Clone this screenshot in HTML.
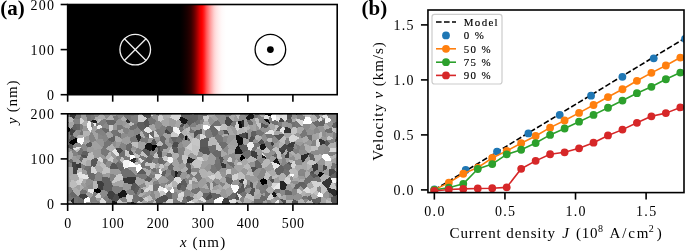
<!DOCTYPE html>
<html><head><meta charset="utf-8"><style>
html,body{margin:0;padding:0;background:#fff;width:685px;height:251px;overflow:hidden}
svg{display:block;will-change:transform}
text{font-family:"Liberation Serif",serif;fill:#000}
</style></head><body>
<svg width="685" height="251" viewBox="0 0 685 251">
<defs>
<linearGradient id="dw" gradientUnits="userSpaceOnUse" x1="67.65" y1="0" x2="337.2" y2="0">
<stop offset="0.4168" stop-color="rgb(0,0,0)"/>
<stop offset="0.4279" stop-color="rgb(8,0,0)"/>
<stop offset="0.4428" stop-color="rgb(25,0,0)"/>
<stop offset="0.4576" stop-color="rgb(50,0,0)"/>
<stop offset="0.4687" stop-color="rgb(95,0,0)"/>
<stop offset="0.4762" stop-color="rgb(135,0,0)"/>
<stop offset="0.4836" stop-color="rgb(180,0,0)"/>
<stop offset="0.4910" stop-color="rgb(225,0,0)"/>
<stop offset="0.4984" stop-color="rgb(255,0,0)"/>
<stop offset="0.5058" stop-color="rgb(255,30,30)"/>
<stop offset="0.5147" stop-color="rgb(255,85,85)"/>
<stop offset="0.5207" stop-color="rgb(255,115,115)"/>
<stop offset="0.5281" stop-color="rgb(255,150,150)"/>
<stop offset="0.5355" stop-color="rgb(255,180,180)"/>
<stop offset="0.5429" stop-color="rgb(255,207,207)"/>
<stop offset="0.5504" stop-color="rgb(255,225,225)"/>
<stop offset="0.5615" stop-color="rgb(255,240,240)"/>
<stop offset="0.5726" stop-color="rgb(255,250,250)"/>
<stop offset="0.5875" stop-color="rgb(255,255,255)"/>
</linearGradient>
</defs>
<text x="0.30" y="14.60" font-size="21" font-weight="bold">(a)</text>
<rect x="67.65" y="4.5" width="269.55" height="90.20" fill="url(#dw)"/>
<circle cx="135.23" cy="49.60" r="15.3" fill="none" stroke="#f0f0f0" stroke-width="1.3"/>
<path d="M124.41,38.78L146.04,60.42M124.41,60.42L146.04,38.78" stroke="#f0f0f0" stroke-width="1.3"/>
<circle cx="270.38" cy="49.60" r="15.3" fill="none" stroke="#000" stroke-width="1.3"/>
<circle cx="270.38" cy="49.60" r="3.4" fill="#000"/>
<defs><filter id="bl" x="0" y="0" width="1" height="1"><feGaussianBlur stdDeviation="0.6"/></filter><clipPath id="ca"><rect x="67.65" y="113.8" width="269.55" height="90.20"/></clipPath></defs>
<g clip-path="url(#ca)"><g filter="url(#bl)" shape-rendering="crispEdges">
<polygon points="236.3,201.8 240.4,204.0 242.0,204.0 242.8,203.1 239.4,199.3 236.4,200.5" fill="#bbbbbb"/>
<polygon points="283.7,133.8 284.2,133.3 284.8,127.8 282.1,127.1 279.6,130.9" fill="#e6e6e6"/>
<polygon points="143.7,199.6 147.6,202.0 148.4,201.2 147.0,196.6 143.2,198.2" fill="#cecece"/>
<polygon points="289.5,152.8 289.4,152.5 288.1,151.7 285.1,155.7 285.1,157.7 285.2,157.7 289.2,157.9 289.3,157.6" fill="#3e3e3e"/>
<polygon points="147.6,133.2 143.6,130.0 141.8,130.6 145.2,137.1 146.0,136.8" fill="#747474"/>
<polygon points="130.1,155.6 134.1,154.4 134.1,154.4 130.8,150.4 130.6,150.4 128.6,151.1" fill="#505050"/>
<polygon points="199.7,169.1 204.0,168.9 209.2,163.7 207.3,160.6 204.2,160.8 202.2,161.6" fill="#a0a0a0"/>
<polygon points="122.6,125.6 123.1,121.6 120.4,118.8 118.8,118.8 116.1,121.7 116.1,122.7 117.6,124.8" fill="#949494"/>
<polygon points="71.6,162.8 72.8,161.5 72.1,158.2 67.7,160.8 67.7,162.2" fill="#6a6a6a"/>
<polygon points="189.0,201.8 190.1,204.0 194.5,204.0 194.7,203.0 190.6,200.8" fill="#e9e9e9"/>
<polygon points="241.4,160.7 239.5,158.4 237.2,159.0 238.3,161.6 241.2,161.7" fill="#858585"/>
<polygon points="202.0,129.4 201.0,129.3 197.6,129.9 199.0,133.5 200.3,134.0 201.6,133.9" fill="#525252"/>
<polygon points="256.4,123.5 256.3,123.5 255.6,124.0 255.8,131.1 255.9,131.1 259.7,129.5" fill="#969696"/>
<polygon points="296.2,120.6 295.1,121.9 295.3,127.2 297.2,127.8 302.0,126.4" fill="#747474"/>
<polygon points="136.6,194.5 135.0,194.3 133.2,195.6 132.1,201.9 135.7,203.1 137.2,202.5 138.6,200.9 139.4,197.2 137.9,195.1" fill="#6e6e6e"/>
<polygon points="211.1,192.3 202.5,193.3 202.5,195.8 206.2,197.1 211.1,193.0 211.1,192.5" fill="#646464"/>
<polygon points="244.4,188.6 244.0,184.1 243.0,183.4 242.1,183.5 241.0,187.7 244.4,188.8" fill="#545454"/>
<polygon points="85.6,165.5 91.5,165.8 90.7,161.1 88.4,159.8 85.5,161.8" fill="#a9a9a9"/>
<polygon points="206.0,201.1 206.5,200.4 206.2,197.1 202.5,195.8 202.2,196.4" fill="#666666"/>
<polygon points="165.3,170.0 163.5,167.6 160.9,169.4 162.0,172.3" fill="#9f9f9f"/>
<polygon points="81.1,146.9 81.4,144.7 77.5,141.8 73.3,145.0 73.5,147.9" fill="#878787"/>
<polygon points="154.1,124.3 156.6,121.0 150.8,116.7 147.6,118.9 149.9,124.7" fill="#747474"/>
<polygon points="290.1,142.6 286.9,145.2 287.1,146.2 293.3,148.0 294.8,142.8 294.7,142.5 294.2,141.8" fill="#3c3c3c"/>
<polygon points="336.8,164.1 335.1,169.8 335.7,171.5 337.2,172.1 337.2,164.2" fill="#a3a3a3"/>
<polygon points="232.3,175.4 238.4,172.7 238.8,172.0 234.1,167.5 233.2,167.8 231.3,168.9 230.6,173.5" fill="#9a9a9a"/>
<polygon points="254.1,118.2 250.5,119.5 253.8,124.3 255.6,124.0 256.3,123.5 254.8,118.5" fill="#9b9b9b"/>
<polygon points="185.5,129.1 183.6,129.7 181.3,132.2 187.8,133.0" fill="#b3b3b3"/>
<polygon points="170.4,117.5 176.5,120.6 179.0,119.5 180.6,116.6 180.8,113.8 172.0,113.8" fill="#d8d8d8"/>
<polygon points="336.4,127.7 331.7,127.4 331.4,127.8 332.9,132.2 337.2,132.8 337.2,128.5" fill="#c1c1c1"/>
<polygon points="248.4,139.8 249.2,141.8 252.4,141.9 254.7,138.7 254.5,137.2 251.7,136.0" fill="#535353"/>
<polygon points="306.5,177.6 310.8,181.5 311.4,181.4 312.5,180.5 312.9,178.7 312.6,177.1 309.9,174.8" fill="#6e6e6e"/>
<polygon points="100.1,192.6 98.1,193.1 95.2,196.9 95.8,197.5 101.1,198.2 101.2,198.1" fill="#d4d4d4"/>
<polygon points="326.6,200.0 325.7,204.0 331.4,204.0 332.3,203.0 331.4,201.8" fill="#c0c0c0"/>
<polygon points="224.7,123.9 226.2,116.6 224.0,114.4 218.3,118.3 217.8,119.8 221.3,124.7" fill="#8e8e8e"/>
<polygon points="117.1,201.9 112.6,200.9 111.7,204.0 117.5,204.0" fill="#181818"/>
<polygon points="221.3,124.7 217.8,119.8 214.7,121.5 212.0,125.2 212.6,125.5 220.6,126.0" fill="#727272"/>
<polygon points="309.9,174.8 312.6,177.1 313.9,174.4 309.8,172.2 309.6,172.3" fill="#5c5c5c"/>
<polygon points="218.4,142.9 222.6,149.2 227.3,145.8 227.7,144.0 226.3,142.5 223.2,141.4" fill="#6e6e6e"/>
<polygon points="180.9,132.4 178.6,128.0 174.5,126.6 173.5,127.2 173.3,131.1 178.8,134.7 180.8,132.7" fill="#f4f4f4"/>
<polygon points="68.5,201.1 70.8,200.7 73.7,198.3 74.0,197.5 71.2,196.6 67.7,198.3 67.7,200.7" fill="#737373"/>
<polygon points="195.5,159.8 195.2,159.8 191.5,163.2 194.2,167.6 197.3,167.7" fill="#c4c4c4"/>
<polygon points="150.2,184.5 147.7,187.8 149.4,190.1 151.6,191.2 153.2,190.9 153.2,184.8 153.1,184.7" fill="#d6d6d6"/>
<polygon points="69.0,141.9 68.6,141.7 68.0,141.5 67.7,141.6 67.7,147.3 67.7,147.3 69.6,143.1" fill="#979797"/>
<polygon points="68.6,122.7 73.2,121.9 73.6,119.1 70.0,116.3 67.7,117.3 67.7,118.9" fill="#b6b6b6"/>
<polygon points="335.7,171.5 329.9,176.9 329.9,177.2 331.1,178.5 337.2,178.4 337.2,172.1" fill="#636363"/>
<polygon points="177.1,159.0 179.6,163.7 183.5,163.3 181.3,155.7 179.6,155.7" fill="#828282"/>
<polygon points="308.8,140.1 304.1,143.4 310.8,146.3 311.4,145.6 311.9,140.8" fill="#989898"/>
<polygon points="231.4,184.3 232.9,180.9 231.8,178.3 225.8,176.8 225.4,177.1 226.8,183.0 230.7,185.0" fill="#666666"/>
<polygon points="163.7,160.6 162.3,157.1 158.6,157.5 158.6,157.6 158.1,163.1 159.9,164.3 162.1,164.1" fill="#686868"/>
<polygon points="279.5,199.8 276.2,200.7 274.8,204.0 279.3,204.0" fill="#eeeeee"/>
<polygon points="99.9,202.4 99.9,202.4 99.3,203.3 99.3,203.7 99.5,204.0 106.1,204.0 106.1,203.9" fill="#cacaca"/>
<polygon points="290.9,122.9 292.1,121.7 291.7,119.0 291.2,118.6 287.2,119.0 286.1,121.4 286.5,122.2" fill="#626262"/>
<polygon points="179.9,189.6 177.8,189.6 176.5,192.2 177.7,193.8 183.8,191.6" fill="#989898"/>
<polygon points="285.2,157.7 285.1,157.7 282.5,158.8 282.4,159.0 281.1,165.1 282.8,166.2 286.8,163.6 287.0,163.2" fill="#878787"/>
<polygon points="264.4,133.7 264.4,133.7 270.9,129.5 268.9,125.6 268.8,125.7 265.4,128.4 263.9,132.7" fill="#939393"/>
<polygon points="119.2,147.3 121.0,142.4 116.3,141.9 115.2,148.2 115.4,148.9" fill="#999999"/>
<polygon points="112.2,142.7 108.4,139.8 104.3,142.6 103.2,147.5 106.1,148.5 112.1,143.4" fill="#757575"/>
<polygon points="327.6,169.0 328.4,169.6 331.1,168.6 331.9,162.8 326.7,166.3" fill="#b6b6b6"/>
<polygon points="153.8,131.5 153.9,137.0 159.5,136.8 155.3,130.7" fill="#cfcfcf"/>
<polygon points="330.2,156.5 337.2,153.7 337.2,152.1 328.8,152.3 327.3,154.0" fill="#818181"/>
<polygon points="337.2,164.2 337.2,160.4 336.5,163.9 336.8,164.1" fill="#9b9b9b"/>
<polygon points="213.9,200.1 212.4,198.1 206.5,200.4 206.0,201.1 205.5,202.5 205.7,203.2 209.6,204.0 214.0,204.0" fill="#7c7c7c"/>
<polygon points="270.8,162.3 264.3,168.7 266.2,171.3 267.4,171.6 274.4,169.5 271.1,162.4" fill="#9c9c9c"/>
<polygon points="181.3,203.0 183.9,196.1 178.4,196.9 176.8,199.1" fill="#d1d1d1"/>
<polygon points="173.2,199.9 173.3,203.5 174.9,204.0 181.8,204.0 181.3,203.0 176.8,199.1" fill="#797979"/>
<polygon points="77.3,152.2 77.9,154.5 81.0,154.9 81.4,154.5 83.4,150.7 81.2,147.7" fill="#727272"/>
<polygon points="205.7,203.2 205.3,204.0 209.6,204.0" fill="#898989"/>
<polygon points="133.2,195.6 135.0,194.3 133.8,191.0 130.5,188.9 125.6,191.0 126.9,194.1" fill="#828282"/>
<polygon points="250.7,181.5 253.0,182.9 258.6,180.2 259.0,179.8 256.9,177.3 253.6,175.7 252.9,176.1 250.0,180.2" fill="#9c9c9c"/>
<polygon points="157.2,146.2 156.1,144.8 152.3,144.6 151.5,150.4 153.5,150.7 157.2,146.5" fill="#000000"/>
<polygon points="117.2,114.6 118.4,113.8 116.5,113.8" fill="#3c3c3c"/>
<polygon points="123.5,202.3 119.6,199.2 117.1,201.9 117.5,204.0 122.7,204.0" fill="#c8c8c8"/>
<polygon points="305.6,117.1 305.1,116.4 300.4,113.8 297.7,113.8 296.5,114.7 296.5,118.3 296.7,118.7 303.5,120.6" fill="#828282"/>
<polygon points="234.6,152.4 228.5,154.6 229.1,156.8 232.3,158.4 235.2,157.3 235.6,153.7" fill="#8d8d8d"/>
<polygon points="231.8,178.3 232.3,175.4 230.6,173.5 226.5,174.5 225.8,176.8" fill="#797979"/>
<polygon points="191.3,171.6 191.1,173.2 193.8,176.4 193.9,176.4 198.1,172.7" fill="#bfbfbf"/>
<polygon points="242.2,127.4 241.0,120.7 239.2,120.5 237.7,121.5 239.6,128.4" fill="#0d0d0d"/>
<polygon points="77.3,152.2 81.2,147.7 81.1,147.4 75.1,150.3" fill="#bababa"/>
<polygon points="273.7,189.7 273.5,191.5 276.4,194.0 279.7,192.5 280.7,189.4 280.0,188.8" fill="#757575"/>
<polygon points="265.2,114.8 263.7,117.3 264.3,118.9 268.0,119.1 270.7,116.2" fill="#e0e0e0"/>
<polygon points="321.1,192.7 320.4,185.4 316.8,187.7 316.6,190.2 318.7,192.1" fill="#868686"/>
<polygon points="310.3,159.5 306.8,163.2 307.4,163.9 312.3,165.4 316.4,163.0 315.0,161.2" fill="#c6c6c6"/>
<polygon points="134.4,135.8 133.3,130.2 129.4,129.3 127.3,134.7 127.8,136.2 130.2,137.8" fill="#8c8c8c"/>
<polygon points="109.6,167.8 110.2,168.7 118.4,169.1 115.9,164.1 112.5,162.5" fill="#565656"/>
<polygon points="67.7,167.4 67.7,175.8 69.4,176.4 73.3,173.7 73.3,167.4 71.8,166.5" fill="#a6a6a6"/>
<polygon points="109.4,177.7 102.6,176.4 101.5,180.8 103.9,183.1 110.8,182.4" fill="#5e5e5e"/>
<polygon points="68.0,141.5 67.7,140.7 67.7,141.6" fill="#848484"/>
<polygon points="326.7,166.3 331.9,162.8 331.9,162.8 330.7,160.5 325.4,161.1 324.9,165.1" fill="#bdbdbd"/>
<polygon points="292.7,176.6 294.2,174.6 293.7,174.3 289.9,173.7 289.5,174.4 291.3,176.4" fill="#ffffff"/>
<polygon points="235.2,127.4 236.1,121.6 233.5,121.0 232.8,121.1 230.1,125.3" fill="#787878"/>
<polygon points="305.1,116.4 305.4,113.8 300.4,113.8" fill="#b0b0b0"/>
<polygon points="159.5,136.8 153.9,137.0 153.3,137.8 153.0,138.4 153.0,138.4 155.0,139.8 159.9,140.0 160.4,137.1" fill="#9d9d9d"/>
<polygon points="91.0,173.3 95.7,173.6 97.1,172.0 94.6,166.9 91.8,166.1 91.2,167.1" fill="#d6d6d6"/>
<polygon points="286.1,137.7 284.8,143.8 285.0,143.9 286.9,145.2 290.1,142.6 288.6,137.9" fill="#7e7e7e"/>
<polygon points="306.6,192.7 310.0,192.5 309.8,189.6 307.0,186.6 303.9,189.0 303.5,190.5" fill="#dedede"/>
<polygon points="94.2,180.9 93.7,181.0 93.1,182.1 93.5,188.9 98.1,188.4 97.2,181.5" fill="#b6b6b6"/>
<polygon points="312.4,122.4 310.9,123.8 309.2,128.9 313.8,130.3 316.3,127.4" fill="#9b9b9b"/>
<polygon points="226.5,174.5 225.9,172.8 219.3,171.4 221.9,177.3 225.4,177.1 225.8,176.8" fill="#979797"/>
<polygon points="228.5,117.2 232.8,121.1 233.5,121.0 235.2,114.2 235.2,113.8 232.8,113.8" fill="#ababab"/>
<polygon points="253.6,175.7 253.2,172.6 252.6,172.1 248.2,171.4 245.8,174.8 252.9,176.1" fill="#bbbbbb"/>
<polygon points="292.9,188.6 291.3,191.2 291.9,194.9 293.3,196.3 297.5,193.2 297.0,189.6 294.0,188.4" fill="#868686"/>
<polygon points="153.1,184.7 153.2,184.8 159.0,183.5 157.8,180.2 152.8,181.8" fill="#7f7f7f"/>
<polygon points="303.5,199.6 305.0,203.8 308.3,200.3 307.2,199.2" fill="#878787"/>
<polygon points="246.0,132.5 247.3,130.3 246.7,126.6 243.9,126.9 243.2,127.4 245.6,132.4" fill="#bdbdbd"/>
<polygon points="166.2,128.9 164.5,132.8 170.9,134.4 171.0,133.9" fill="#474747"/>
<polygon points="193.8,176.4 191.1,173.2 188.8,174.3 190.2,176.6 193.2,176.9" fill="#7c7c7c"/>
<polygon points="87.7,147.6 92.1,146.0 91.8,142.7 90.0,141.8 85.9,144.6" fill="#5d5d5d"/>
<polygon points="102.6,176.4 102.4,173.9 101.6,172.7 97.1,172.0 95.7,173.6 94.2,180.9 97.2,181.5 101.5,180.8" fill="#888888"/>
<polygon points="300.5,146.2 296.3,144.4 296.9,149.4 298.9,150.4 299.2,150.1" fill="#808080"/>
<polygon points="167.2,161.1 163.7,160.6 162.1,164.1 163.3,165.2 167.4,161.4 167.4,161.4" fill="#717171"/>
<polygon points="122.8,129.0 117.9,130.6 118.1,132.2 121.6,133.7 123.6,132.5" fill="#aeaeae"/>
<polygon points="155.7,152.3 153.5,150.7 151.5,150.4 150.2,151.1 149.7,154.4 153.2,156.1" fill="#7e7e7e"/>
<polygon points="86.7,185.9 85.4,183.7 82.2,183.1 81.2,183.6 80.7,184.6 83.6,187.5" fill="#9b9b9b"/>
<polygon points="223.2,141.4 226.3,142.5 228.1,135.8 222.7,136.8" fill="#888888"/>
<polygon points="82.6,189.2 83.6,187.5 80.7,184.6 79.8,185.3 80.5,190.6" fill="#aeaeae"/>
<polygon points="95.4,117.1 94.1,119.3 97.2,121.8 98.3,118.8 97.2,117.1" fill="#acacac"/>
<polygon points="99.8,113.8 93.4,113.8 95.4,117.1 97.2,117.1 100.4,114.2" fill="#868686"/>
<polygon points="317.5,139.3 318.6,139.4 319.4,138.9 318.8,133.1 314.3,133.8" fill="#a5a5a5"/>
<polygon points="147.0,196.3 150.2,195.0 151.6,191.2 149.4,190.1 146.0,192.7 145.7,194.4" fill="#999999"/>
<polygon points="237.3,131.5 239.6,128.4 237.7,121.5 236.1,121.6 235.2,127.4" fill="#d3d3d3"/>
<polygon points="181.8,204.0 184.8,204.0 187.8,201.6 185.9,197.2 183.9,196.1 183.9,196.1 181.3,203.0" fill="#707070"/>
<polygon points="169.0,180.3 166.1,177.4 165.3,177.3 163.5,182.7 165.4,183.6" fill="#9b9b9b"/>
<polygon points="86.7,185.9 87.2,186.1 93.1,182.1 93.7,181.0 88.6,178.0 86.9,179.0 85.4,183.7" fill="#919191"/>
<polygon points="280.7,189.4 279.7,192.5 281.3,196.2 285.2,194.8 284.8,190.1" fill="#898989"/>
<polygon points="250.7,150.9 253.8,146.1 253.4,143.0 252.4,141.9 249.2,141.8 246.7,145.2 248.4,149.8 250.6,151.0" fill="#eeeeee"/>
<polygon points="79.3,159.7 77.2,159.2 75.7,162.2 76.7,163.8 80.9,163.2 81.4,161.8" fill="#a0a0a0"/>
<polygon points="274.8,125.1 274.3,131.6 274.3,131.6 276.3,130.7 278.7,126.2 277.8,124.6" fill="#c2c2c2"/>
<polygon points="134.3,163.3 135.9,165.7 138.5,164.3 137.4,162.1 136.0,161.8" fill="#c5c5c5"/>
<polygon points="276.2,200.7 273.7,198.4 269.7,200.3 270.6,201.5 274.4,204.0 274.8,204.0" fill="#9f9f9f"/>
<polygon points="97.0,129.4 96.8,126.6 95.9,125.5 94.1,125.7 91.9,128.5 91.1,132.0 92.1,132.3 94.8,131.7" fill="#a1a1a1"/>
<polygon points="289.9,173.7 289.2,170.0 284.0,169.2 283.0,172.2 286.5,176.5 287.1,176.5 289.5,174.4" fill="#707070"/>
<polygon points="322.8,196.5 326.3,198.7 328.5,197.5 328.5,191.9 327.3,189.8 323.0,194.2" fill="#979797"/>
<polygon points="286.2,149.5 286.5,149.3 287.1,146.2 286.9,145.2 285.0,143.9 279.0,148.9 279.2,150.0" fill="#464646"/>
<polygon points="243.2,127.4 243.9,126.9 244.2,120.0 241.0,120.7 242.2,127.4" fill="#2b2b2b"/>
<polygon points="279.0,182.7 272.8,188.2 273.7,189.7 280.0,188.8 279.6,182.5" fill="#eaeaea"/>
<polygon points="269.6,152.2 269.9,150.8 266.7,147.4 266.2,147.2 262.2,150.7 262.3,151.7 266.9,153.6" fill="#c3c3c3"/>
<polygon points="168.6,146.8 166.2,148.9 166.7,152.2 167.3,152.8 167.9,152.7 171.4,147.0" fill="#a7a7a7"/>
<polygon points="71.2,196.6 69.9,194.1 67.7,194.3 67.7,198.3" fill="#727272"/>
<polygon points="211.4,153.4 216.4,150.0 216.5,144.6 207.9,146.5 207.8,146.6 210.4,153.3" fill="#6d6d6d"/>
<polygon points="220.3,182.2 219.8,179.7 215.4,178.3 213.7,180.5 213.5,181.1 217.9,184.8 218.3,184.8 219.4,184.0" fill="#8f8f8f"/>
<polygon points="165.6,194.7 168.9,199.0 171.8,198.9 172.3,193.6 169.7,191.5 168.0,191.3 165.9,193.3" fill="#636363"/>
<polygon points="324.2,149.9 326.3,146.0 325.0,144.1 320.5,144.7 319.5,146.2" fill="#909090"/>
<polygon points="97.2,181.5 98.1,188.4 101.2,190.4 103.1,189.6 103.9,183.1 101.5,180.8" fill="#3d3d3d"/>
<polygon points="260.2,191.0 260.0,192.9 261.3,194.4 265.2,192.4 265.9,190.4 265.7,189.8 264.8,189.6" fill="#797979"/>
<polygon points="325.5,118.8 322.1,116.8 321.2,117.3 322.1,120.1 325.2,119.3" fill="#919191"/>
<polygon points="90.5,121.2 90.3,121.3 91.9,128.5 94.1,125.7 93.3,122.9 90.8,121.1" fill="#7e7e7e"/>
<polygon points="222.3,157.0 227.5,154.1 222.4,149.7 220.6,151.2 220.5,156.3" fill="#a8a8a8"/>
<polygon points="271.6,122.9 270.3,123.5 269.6,124.2 268.9,125.6 270.9,129.5 274.3,131.6 274.8,125.1" fill="#a9a9a9"/>
<polygon points="325.0,130.0 323.2,126.1 319.5,125.5 317.0,127.4 320.5,131.8 322.3,132.1 324.7,130.6" fill="#959595"/>
<polygon points="276.3,114.3 282.4,114.8 282.7,114.5 282.3,113.8 276.7,113.8" fill="#c2c2c2"/>
<polygon points="197.8,113.8 191.7,113.8 191.8,114.8 197.6,114.0 197.7,113.9" fill="#a5a5a5"/>
<polygon points="147.1,143.3 151.1,143.4 153.0,138.4 153.0,138.4 148.8,137.6 148.8,137.6" fill="#999999"/>
<polygon points="266.9,153.6 262.3,151.7 262.2,152.4 265.6,156.0" fill="#929292"/>
<polygon points="313.6,204.0 314.7,204.0 316.6,202.8 315.1,199.6 312.3,199.0 311.6,200.0" fill="#5e5e5e"/>
<polygon points="125.8,150.3 128.6,151.1 130.6,150.4 132.2,145.6 130.7,142.6 130.7,142.6 126.3,144.9" fill="#6b6b6b"/>
<polygon points="126.9,119.3 123.7,115.9 120.4,118.8 123.1,121.6 126.0,120.8" fill="#aaaaaa"/>
<polygon points="72.3,157.0 67.7,155.8 67.7,160.8 72.1,158.2" fill="#adadad"/>
<polygon points="93.3,122.9 94.1,125.7 95.9,125.5 96.5,123.2" fill="#ececec"/>
<polygon points="300.9,155.6 300.5,159.1 302.9,162.1 303.7,162.1 308.8,154.7 309.0,152.9 308.6,152.9" fill="#2c2c2c"/>
<polygon points="111.5,182.8 116.8,175.0 110.4,173.7 109.4,177.7 110.8,182.4" fill="#838383"/>
<polygon points="135.2,160.7 131.0,161.5 134.3,163.3 136.0,161.8" fill="#313131"/>
<polygon points="139.3,157.4 138.4,158.1 138.4,158.3 141.2,163.4 144.0,160.8" fill="#e0e0e0"/>
<polygon points="241.2,161.7 238.3,161.6 236.7,164.5 242.2,164.6" fill="#c9c9c9"/>
<polygon points="172.3,193.6 174.1,192.5 173.2,187.2 172.5,186.9 169.7,191.5" fill="#ffffff"/>
<polygon points="304.1,129.0 306.0,130.1 309.2,128.9 310.9,123.8 303.2,124.2 302.2,126.4" fill="#8b8b8b"/>
<polygon points="105.7,118.9 104.0,115.3 102.3,114.1 100.4,114.2 97.2,117.1 98.3,118.8 102.2,119.8" fill="#acacac"/>
<polygon points="336.3,202.6 336.2,204.0 337.2,204.0 337.2,202.7" fill="#b4b4b4"/>
<polygon points="117.1,156.4 116.0,157.9 118.1,160.8 120.2,160.2 121.1,157.1 118.8,155.5" fill="#838383"/>
<polygon points="205.7,203.2 205.5,202.5 199.1,199.5 198.3,199.8 198.2,200.2 199.2,204.0 205.3,204.0" fill="#a3a3a3"/>
<polygon points="68.6,141.7 69.0,141.9 76.1,137.9 72.5,135.1 71.2,135.0" fill="#555555"/>
<polygon points="224.0,114.4 226.2,116.6 228.5,117.2 232.8,113.8 223.9,113.8" fill="#7c7c7c"/>
<polygon points="124.6,155.7 129.5,157.4 130.1,155.6 128.6,151.1 125.8,150.3 125.0,150.7" fill="#c7c7c7"/>
<polygon points="311.4,181.4 310.8,181.5 307.0,184.8 307.0,186.6 309.8,189.6 313.9,186.6" fill="#aaaaaa"/>
<polygon points="298.6,183.3 295.6,184.8 294.0,188.4 297.0,189.6 298.4,188.6 299.8,186.1" fill="#626262"/>
<polygon points="259.5,199.3 263.3,201.1 266.3,200.1 266.8,199.6 266.8,198.8 265.4,196.7 261.4,194.7" fill="#686868"/>
<polygon points="255.1,188.4 255.2,188.3 258.6,180.2 253.0,182.9 253.2,187.7" fill="#a8a8a8"/>
<polygon points="148.5,126.9 149.9,124.7 147.6,118.9 147.0,118.9 143.3,122.0 145.5,127.8" fill="#565656"/>
<polygon points="278.4,122.0 275.4,120.2 272.6,121.1 271.6,122.9 274.8,125.1 277.8,124.6" fill="#707070"/>
<polygon points="317.9,164.5 317.9,169.6 322.7,169.6 322.8,165.6" fill="#8e8e8e"/>
<polygon points="154.8,200.4 154.4,200.4 152.7,204.0 157.3,204.0" fill="#bebebe"/>
<polygon points="103.1,159.4 102.3,162.3 105.4,164.0 107.6,160.3 107.4,159.7 106.4,158.6" fill="#787878"/>
<polygon points="225.8,189.6 223.0,189.1 220.6,190.7 220.3,194.5 221.3,196.6 223.8,198.1 227.0,197.6 227.2,197.3" fill="#999999"/>
<polygon points="141.2,192.8 141.0,188.5 140.7,188.1 139.6,187.4 136.6,194.5 137.9,195.1" fill="#7f7f7f"/>
<polygon points="259.0,179.8 259.5,179.9 263.9,178.2 266.2,171.3 264.3,168.7 262.5,168.0 262.2,168.2 256.9,177.3" fill="#888888"/>
<polygon points="328.8,152.3 337.2,152.1 337.2,147.4 330.4,148.4" fill="#d8d8d8"/>
<polygon points="176.9,176.8 174.4,177.6 174.0,177.9 173.6,180.2 178.5,183.5 180.4,183.1 181.9,180.0 179.6,177.3" fill="#dedede"/>
<polygon points="302.0,138.4 300.9,137.7 300.1,137.8 294.4,141.2 294.2,141.8 294.7,142.5 303.1,142.4" fill="#a5a5a5"/>
<polygon points="252.3,125.2 248.9,125.0 250.0,129.2 253.0,130.6" fill="#a1a1a1"/>
<polygon points="217.9,184.8 213.5,186.9 212.1,190.3 218.7,189.3 218.3,184.8" fill="#9f9f9f"/>
<polygon points="81.2,183.6 78.2,180.1 76.2,181.0 76.8,185.3 79.8,185.3 80.7,184.6" fill="#d0d0d0"/>
<polygon points="199.1,150.3 200.0,146.8 192.5,144.2 191.5,151.0 191.6,151.3" fill="#c2c2c2"/>
<polygon points="269.4,159.7 266.1,158.7 265.7,158.8 261.3,164.2 262.5,168.0 264.3,168.7 270.8,162.3" fill="#b8b8b8"/>
<polygon points="265.2,114.8 270.7,116.2 270.9,116.2 272.9,113.8 265.2,113.8" fill="#090909"/>
<polygon points="214.7,164.0 214.2,164.6 217.7,170.8 218.7,170.9 221.8,168.2 221.0,163.4 220.3,163.2" fill="#717171"/>
<polygon points="188.1,169.0 186.5,171.5 187.8,174.4 188.8,174.3 191.1,173.2 191.3,171.6 190.6,169.4" fill="#565656"/>
<polygon points="224.0,114.4 223.9,113.8 215.3,113.8 214.8,114.8 214.8,115.0 218.3,118.3" fill="#8b8b8b"/>
<polygon points="234.7,134.6 229.4,125.9 227.8,126.1 226.5,129.6 229.2,134.6" fill="#a7a7a7"/>
<polygon points="119.6,198.1 117.7,194.2 115.2,193.8 112.0,199.8 112.6,200.9 117.1,201.9 119.6,199.2" fill="#4b4b4b"/>
<polygon points="115.4,148.9 111.4,151.2 117.1,156.4 118.8,155.5 119.0,153.9" fill="#e5e5e5"/>
<polygon points="278.0,176.3 274.1,179.6 273.3,182.5 279.0,182.7 279.6,182.5 280.3,181.4" fill="#9e9e9e"/>
<polygon points="218.7,189.3 212.1,190.3 211.2,191.2 211.1,192.3 211.1,192.5 220.3,194.5 220.6,190.7" fill="#b1b1b1"/>
<polygon points="198.9,172.2 199.6,169.1 197.3,167.7 194.2,167.6 191.1,169.0 190.6,169.4 191.3,171.6 198.1,172.7" fill="#858585"/>
<polygon points="298.2,176.8 298.3,175.3 298.1,174.5 294.2,174.6 292.7,176.6 292.7,179.3" fill="#b8b8b8"/>
<polygon points="246.7,145.2 243.1,144.3 238.6,145.6 242.8,152.6 248.4,149.8" fill="#5e5e5e"/>
<polygon points="218.4,142.9 217.9,142.8 216.5,144.6 216.4,150.0 220.6,151.2 222.4,149.7 222.6,149.2" fill="#c6c6c6"/>
<polygon points="266.7,147.4 269.9,150.8 272.1,150.1 273.6,147.7 273.0,146.1 270.4,145.0" fill="#777777"/>
<polygon points="198.2,183.9 192.4,184.4 192.4,189.2 199.2,187.3" fill="#999999"/>
<polygon points="207.8,146.6 207.9,146.5 208.8,138.6 206.2,137.5 200.3,140.0 200.1,146.8" fill="#5a5a5a"/>
<polygon points="296.3,144.4 294.8,142.8 293.3,148.0 293.8,148.8 296.9,149.4" fill="#8c8c8c"/>
<polygon points="298.4,188.6 302.5,191.3 303.5,190.5 303.9,189.0 300.5,186.3 299.8,186.1" fill="#9d9d9d"/>
<polygon points="187.4,178.6 185.6,178.0 184.7,178.9 187.3,185.2 188.7,184.2 189.0,179.8" fill="#818181"/>
<polygon points="73.5,147.9 73.3,145.0 69.6,143.1 67.7,147.3 72.6,149.6 73.2,149.2" fill="#525252"/>
<polygon points="301.7,168.4 306.3,170.8 306.6,170.7 307.4,163.9 306.8,163.2 303.7,162.1 302.9,162.1 301.4,164.8" fill="#a7a7a7"/>
<polygon points="217.7,170.8 214.3,174.1 214.3,174.2 215.4,178.3 219.8,179.7 221.9,177.3 219.3,171.4 218.7,170.9" fill="#c5c5c5"/>
<polygon points="256.9,168.6 255.5,167.2 250.8,167.5 252.6,172.1 253.2,172.6" fill="#4e4e4e"/>
<polygon points="181.9,123.1 179.0,119.5 176.5,120.6 174.5,126.6 178.6,128.0 179.4,127.3" fill="#a8a8a8"/>
<polygon points="141.8,130.6 141.5,130.6 139.5,133.8 141.0,137.1 144.7,137.8 145.2,137.1" fill="#b0b0b0"/>
<polygon points="158.2,151.6 157.2,152.5 158.6,157.5 162.3,157.1 162.5,156.8 162.3,151.8 159.9,151.3" fill="#4f4f4f"/>
<polygon points="163.5,165.4 163.5,167.6 165.3,170.0 165.6,170.0 167.9,168.8 167.8,166.2 165.5,165.5" fill="#a2a2a2"/>
<polygon points="326.3,198.7 326.6,200.0 331.4,201.8 331.2,197.5 328.5,197.5" fill="#adadad"/>
<polygon points="170.7,136.9 170.9,136.5 170.9,134.4 164.5,132.8 162.8,134.6 162.6,135.6 165.6,137.7 169.8,137.3" fill="#a1a1a1"/>
<polygon points="310.0,152.4 309.0,152.9 308.8,154.7 310.3,159.5 315.0,161.2 314.2,155.5" fill="#646464"/>
<polygon points="253.4,114.8 258.1,113.8 252.7,113.8" fill="#d5d5d5"/>
<polygon points="307.0,135.2 302.0,138.4 303.1,142.4 303.5,143.2 304.0,143.4 304.1,143.4 308.8,140.1" fill="#ababab"/>
<polygon points="201.0,129.3 200.8,124.2 200.3,124.0 196.6,124.7 196.3,126.5 197.1,129.7 197.6,129.9" fill="#9b9b9b"/>
<polygon points="183.9,196.1 183.9,196.1 184.0,191.6 183.8,191.6 177.7,193.8 178.4,196.9" fill="#dadada"/>
<polygon points="295.5,159.9 300.5,159.1 300.9,155.6 298.8,152.7 295.2,154.1 294.1,155.5 294.1,155.9" fill="#ababab"/>
<polygon points="281.2,153.6 279.2,150.1 276.3,152.2 276.1,153.1 277.3,156.1 280.5,155.6" fill="#c4c4c4"/>
<polygon points="167.4,161.4 165.5,165.5 167.8,166.2 170.9,163.5 167.4,161.4" fill="#b6b6b6"/>
<polygon points="120.8,138.1 116.4,135.8 114.5,136.4 114.8,141.1 116.3,141.9 121.0,142.4 121.4,142.1 121.8,139.4" fill="#ababab"/>
<polygon points="258.3,189.0 260.2,191.0 264.8,189.6 261.7,184.8 261.7,184.8" fill="#7c7c7c"/>
<polygon points="76.2,181.0 70.8,179.5 70.0,186.9 72.0,188.3 74.8,187.4 76.8,185.3" fill="#bdbdbd"/>
<polygon points="295.2,154.1 292.6,150.9 289.4,152.5 289.5,152.8 294.1,155.5" fill="#b0b0b0"/>
<polygon points="79.4,178.2 76.4,173.6 73.3,173.7 69.4,176.4 70.8,179.5 76.2,181.0 78.2,180.1" fill="#ababab"/>
<polygon points="127.3,167.9 123.9,168.9 121.5,171.3 121.2,173.4 123.3,177.9 135.8,176.6 136.0,176.4 136.2,175.1" fill="#6e6e6e"/>
<polygon points="164.2,176.3 165.3,177.3 166.1,177.4 170.6,174.6 170.5,173.2 166.5,172.4" fill="#868686"/>
<polygon points="130.1,160.2 135.2,157.4 134.1,154.4 130.1,155.6 129.5,157.4" fill="#ffffff"/>
<polygon points="214.3,174.1 210.1,170.8 207.0,171.7 206.9,177.0 207.5,176.9 214.3,174.2" fill="#b5b5b5"/>
<polygon points="141.0,137.1 139.6,141.3 144.6,142.3 144.7,137.8" fill="#7b7b7b"/>
<polygon points="130.8,116.1 138.3,114.9 139.0,113.8 130.3,113.8 130.2,115.2" fill="#757575"/>
<polygon points="184.0,191.6 186.6,189.1 186.3,187.1 181.6,184.4 179.9,189.6 183.8,191.6" fill="#656565"/>
<polygon points="263.2,126.9 263.5,124.1 262.3,122.9 260.7,123.2 260.5,128.5" fill="#555555"/>
<polygon points="98.4,138.5 95.8,140.0 95.5,140.9 102.1,148.0 103.2,147.5 104.3,142.6 102.0,138.6" fill="#969696"/>
<polygon points="276.6,158.1 276.9,158.3 282.4,159.0 282.5,158.8 280.5,155.6 277.3,156.1 276.6,157.9" fill="#c4c4c4"/>
<polygon points="323.7,173.8 320.2,177.7 321.7,182.4 321.8,182.5 329.9,177.2 329.9,176.9 329.4,176.2" fill="#b2b2b2"/>
<polygon points="239.3,187.6 238.1,185.6 231.4,184.3 230.7,185.0 230.6,185.9 233.7,192.4 236.0,193.0" fill="#fdfdfd"/>
<polygon points="274.4,143.5 275.5,143.4 279.1,140.6 274.2,136.0 272.7,137.5 271.8,141.8" fill="#8a8a8a"/>
<polygon points="135.7,150.3 130.8,150.4 134.1,154.4 135.2,153.3" fill="#a5a5a5"/>
<polygon points="198.5,118.9 195.1,122.4 196.6,124.7 200.3,124.0 200.4,119.8" fill="#707070"/>
<polygon points="185.6,177.7 187.8,174.4 186.5,171.5 182.2,172.4" fill="#979797"/>
<polygon points="98.3,118.8 97.2,121.8 97.4,122.5 98.7,123.0 102.2,119.8" fill="#bfbfbf"/>
<polygon points="105.8,133.6 108.7,138.8 113.4,136.0 110.9,131.4 109.6,131.1" fill="#a1a1a1"/>
<polygon points="335.5,114.1 337.2,114.1 337.2,113.8 335.1,113.8" fill="#6d6d6d"/>
<polygon points="108.6,125.0 112.9,125.0 116.1,122.7 116.1,121.7 113.8,120.4 106.3,119.9 106.4,122.2" fill="#666666"/>
<polygon points="194.3,122.1 191.0,117.5 187.9,119.7 186.9,123.0 189.5,125.7" fill="#616161"/>
<polygon points="139.6,187.4 138.5,185.7 137.2,185.0 133.8,191.0 135.0,194.3 136.6,194.5" fill="#5c5c5c"/>
<polygon points="121.2,173.4 121.5,171.3 118.4,169.1 110.2,168.7 110.0,173.1 110.4,173.7 116.8,175.0" fill="#9b9b9b"/>
<polygon points="171.8,146.8 173.4,152.4 178.0,153.4 178.4,148.6 177.3,147.6 172.3,146.3" fill="#595959"/>
<polygon points="295.3,127.2 295.1,121.9 292.1,121.7 290.9,122.9 292.8,127.6" fill="#6f6f6f"/>
<polygon points="326.6,200.0 326.3,198.7 322.8,196.5 321.2,197.5 320.3,204.0 325.7,204.0" fill="#a5a5a5"/>
<polygon points="252.6,172.1 250.8,167.5 250.7,167.4 247.5,169.6 248.2,171.4" fill="#adadad"/>
<polygon points="276.3,130.7 279.6,130.9 282.1,127.1 281.7,126.7 278.7,126.2" fill="#646464"/>
<polygon points="331.2,197.5 331.4,201.8 332.3,203.0 336.2,202.5 336.1,195.6 333.9,195.8" fill="#555555"/>
<polygon points="89.6,141.0 90.0,141.8 91.8,142.7 95.5,140.9 95.8,140.0 92.1,132.3 91.1,132.0 90.9,132.1 89.1,135.3" fill="#848484"/>
<polygon points="69.9,194.1 72.4,190.1 72.0,188.3 70.0,186.9 67.7,187.6 67.7,194.3" fill="#7b7b7b"/>
<polygon points="232.9,180.9 238.1,179.1 238.4,172.7 232.3,175.4 231.8,178.3" fill="#d2d2d2"/>
<polygon points="250.8,167.5 255.5,167.2 254.6,164.5 250.3,165.7 250.7,167.4" fill="#969696"/>
<polygon points="329.4,176.2 329.9,176.9 335.7,171.5 335.1,169.8 331.1,168.6 328.4,169.6" fill="#4c4c4c"/>
<polygon points="152.2,162.3 155.7,163.8 158.1,163.1 158.6,157.6 154.3,157.8 152.2,160.8" fill="#7d7d7d"/>
<polygon points="70.0,186.9 70.8,179.5 69.4,176.4 67.7,175.8 67.7,187.6" fill="#a4a4a4"/>
<polygon points="257.3,148.5 254.8,151.0 256.8,152.5 261.2,150.3 260.7,149.7" fill="#9e9e9e"/>
<polygon points="300.5,186.3 303.9,189.0 307.0,186.6 307.0,184.8 305.5,184.0" fill="#656565"/>
<polygon points="155.5,114.6 158.5,115.8 160.0,113.8 155.6,113.8" fill="#7c7c7c"/>
<polygon points="97.4,122.5 96.5,123.2 95.9,125.5 96.8,126.6 99.6,124.6 98.7,123.0" fill="#757575"/>
<polygon points="147.6,156.5 147.8,156.4 149.7,154.4 150.2,151.1 144.6,148.2 142.0,149.9 142.0,150.5" fill="#5a5a5a"/>
<polygon points="324.7,130.6 322.3,132.1 322.2,136.3 326.4,136.7 325.6,131.8" fill="#8f8f8f"/>
<polygon points="312.9,178.7 312.5,180.5 321.7,182.4 320.2,177.7 318.6,176.1" fill="#757575"/>
<polygon points="304.0,143.4 303.5,143.2 300.5,146.2 299.2,150.1 305.3,150.0" fill="#898989"/>
<polygon points="131.6,118.9 130.6,116.7 127.5,119.1 130.3,122.4 130.9,122.2" fill="#747474"/>
<polygon points="289.6,178.4 287.1,176.5 286.5,176.5 283.6,181.5 287.3,184.2 289.3,183.8 290.7,182.3 291.3,181.2" fill="#d3d3d3"/>
<polygon points="118.1,132.2 116.4,135.8 120.8,138.1 121.6,133.7" fill="#6e6e6e"/>
<polygon points="326.4,136.7 326.8,137.1 328.8,136.0 329.8,133.6 325.6,131.8" fill="#999999"/>
<polygon points="262.3,122.9 264.2,119.7 264.3,118.9 263.7,117.3 262.2,117.0 259.3,119.3 259.4,122.8 260.7,123.2" fill="#898989"/>
<polygon points="291.2,118.6 291.7,119.0 296.5,118.3 296.5,114.7 293.3,113.8 292.2,113.8" fill="#969696"/>
<polygon points="211.1,192.5 211.1,193.0 212.4,198.1 213.9,200.1 221.3,196.6 220.3,194.5" fill="#646464"/>
<polygon points="89.1,135.3 90.9,132.1 89.4,131.2 83.4,131.5 82.7,134.8 83.5,137.3 83.8,137.5" fill="#b4b4b4"/>
<polygon points="281.1,165.1 281.0,165.1 274.6,169.6 277.2,175.2 277.9,175.7 283.0,172.2 284.0,169.2 282.8,166.2" fill="#626262"/>
<polygon points="151.1,169.8 150.9,169.2 150.8,169.1 149.0,169.8 146.1,172.6 146.2,174.5 147.3,176.2 147.8,176.1 150.4,174.2" fill="#aaaaaa"/>
<polygon points="189.9,195.4 185.9,197.2 187.8,201.6 189.0,201.8 190.6,200.8 190.8,200.5 190.8,197.1" fill="#5a5a5a"/>
<polygon points="140.7,188.1 146.1,186.4 144.5,182.6 138.5,185.7 139.6,187.4" fill="#878787"/>
<polygon points="241.0,187.7 242.1,183.5 239.6,182.5 238.1,185.6 239.3,187.6" fill="#737373"/>
<polygon points="167.9,184.7 171.9,181.8 172.0,181.4 169.0,180.3 165.4,183.6 165.6,183.8" fill="#7e7e7e"/>
<polygon points="260.1,146.3 257.0,146.8 257.3,148.5 260.7,149.7" fill="#bbbbbb"/>
<polygon points="263.9,132.7 265.4,128.4 263.2,126.9 260.5,128.5 260.0,129.5" fill="#919191"/>
<polygon points="267.6,138.3 272.7,137.5 274.2,136.0 274.3,135.0 274.2,134.8 264.4,133.7 264.4,133.7 264.4,133.7" fill="#757575"/>
<polygon points="194.0,198.9 198.0,199.4 196.2,194.2 194.3,193.9 193.1,197.1" fill="#bababa"/>
<polygon points="187.1,134.9 186.4,135.5 187.3,140.4 190.5,141.4" fill="#5f5f5f"/>
<polygon points="150.8,116.7 151.0,116.1 150.8,114.4 150.2,113.8 141.7,113.8 147.0,118.9 147.6,118.9" fill="#515151"/>
<polygon points="127.8,136.2 127.3,134.7 123.6,132.5 121.6,133.7 120.8,138.1 121.8,139.4" fill="#8d8d8d"/>
<polygon points="105.9,119.0 110.9,115.0 111.2,113.8 105.2,113.8 104.0,115.3 105.7,118.9" fill="#8d8d8d"/>
<polygon points="194.8,131.1 197.1,129.7 196.3,126.5 190.1,127.6 190.3,128.2" fill="#9b9b9b"/>
<polygon points="270.6,201.5 270.5,204.0 274.4,204.0" fill="#919191"/>
<polygon points="138.5,164.3 135.9,165.7 135.5,166.5 137.2,173.3 142.1,168.8 142.3,168.1 140.5,164.6" fill="#ffffff"/>
<polygon points="208.1,115.0 208.2,113.8 201.9,113.8 201.3,114.4 203.4,116.5" fill="#6d6d6d"/>
<polygon points="92.5,196.2 90.1,197.9 90.4,201.4 91.3,202.6 94.3,201.7 95.7,199.5 95.8,197.5 95.2,196.9" fill="#7f7f7f"/>
<polygon points="196.2,194.2 200.1,190.3 200.1,188.2 199.2,187.3 192.4,189.2 190.7,190.8 191.3,192.2 194.3,193.9" fill="#727272"/>
<polygon points="80.7,167.6 77.6,167.8 77.4,172.9 81.4,172.0 82.6,169.7" fill="#bcbcbc"/>
<polygon points="308.0,196.7 304.0,196.2 302.3,196.9 302.0,198.3 303.5,199.6 307.2,199.2" fill="#6f6f6f"/>
<polygon points="165.4,183.6 163.5,182.7 159.5,184.0 159.6,185.5 164.1,188.3 165.4,188.1 165.6,183.8" fill="#8a8a8a"/>
<polygon points="79.8,134.6 82.7,134.8 83.4,131.5 81.9,130.4 80.8,130.3" fill="#777777"/>
<polygon points="294.1,155.5 289.5,152.8 289.3,157.6 294.1,155.9" fill="#9f9f9f"/>
<polygon points="150.8,114.4 151.1,113.8 150.2,113.8" fill="#b6b6b6"/>
<polygon points="174.5,126.6 176.5,120.6 170.4,117.5 169.3,117.9 168.8,125.9 173.5,127.2" fill="#9d9d9d"/>
<polygon points="83.8,169.4 85.4,165.7 81.1,163.7 80.7,167.6 82.6,169.7" fill="#818181"/>
<polygon points="336.8,164.1 336.5,163.9 331.9,162.8 331.9,162.8 331.1,168.6 335.1,169.8" fill="#757575"/>
<polygon points="246.7,145.2 249.2,141.8 248.4,139.8 248.2,139.6 245.2,138.3 243.1,138.5 243.1,144.3" fill="#a3a3a3"/>
<polygon points="225.4,183.3 220.3,182.2 219.4,184.0 222.7,187.3" fill="#848484"/>
<polygon points="230.6,185.9 225.8,189.6 227.2,197.3 233.7,192.4" fill="#a2a2a2"/>
<polygon points="220.3,129.9 220.6,126.0 212.6,125.5 218.5,131.5" fill="#e2e2e2"/>
<polygon points="223.6,159.3 227.3,160.7 229.1,156.8 228.5,154.6 227.7,154.1 227.5,154.1 222.3,157.0" fill="#949494"/>
<polygon points="103.4,168.7 101.6,172.7 102.4,173.9 110.0,173.1 110.2,168.7 109.6,167.8 106.0,166.9" fill="#c3c3c3"/>
<polygon points="292.1,121.7 295.1,121.9 296.2,120.6 296.7,118.7 296.5,118.3 291.7,119.0" fill="#acacac"/>
<polygon points="213.5,181.1 212.3,182.4 213.5,186.9 217.9,184.8" fill="#767676"/>
<polygon points="178.5,135.8 178.8,134.7 173.3,131.1 171.0,133.9 170.9,134.4 170.9,136.5 176.9,137.0" fill="#cccccc"/>
<polygon points="163.3,165.2 163.5,165.4 165.5,165.5 167.4,161.4" fill="#b3b3b3"/>
<polygon points="256.9,168.6 262.2,168.2 262.5,168.0 261.3,164.2 257.4,160.0 256.8,159.7 255.5,161.1 254.6,164.5 255.5,167.2" fill="#666666"/>
<polygon points="92.7,193.7 87.6,191.1 87.4,191.2 86.2,194.2 87.7,196.7 90.1,197.9 92.5,196.2" fill="#a0a0a0"/>
<polygon points="325.5,114.2 322.8,115.2 322.1,116.8 325.5,118.8 327.9,117.2 327.2,114.3" fill="#e5e5e5"/>
<polygon points="130.3,122.4 129.2,123.6 129.9,126.6 135.2,124.1 130.9,122.2" fill="#bcbcbc"/>
<polygon points="302.0,198.3 297.5,201.0 298.4,204.0 305.1,204.0 305.0,203.8 303.5,199.6" fill="#b4b4b4"/>
<polygon points="73.3,145.0 77.5,141.8 77.0,138.7 76.4,138.0 76.1,137.9 69.0,141.9 69.6,143.1" fill="#000000"/>
<polygon points="111.4,156.1 113.8,158.7 116.0,157.9 117.1,156.4 111.4,151.2 110.3,151.5" fill="#9c9c9c"/>
<polygon points="322.8,115.2 325.5,114.2 325.0,113.8 321.6,113.8" fill="#7c7c7c"/>
<polygon points="109.8,151.3 106.1,157.1 106.4,158.6 107.4,159.7 111.4,156.1 110.3,151.5" fill="#b6b6b6"/>
<polygon points="209.8,182.6 206.8,181.9 206.3,183.5 208.9,189.3 210.4,190.4" fill="#777777"/>
<polygon points="186.9,123.0 187.9,119.7 180.6,116.6 179.0,119.5 181.9,123.1 184.2,124.0" fill="#171717"/>
<polygon points="276.5,116.5 275.8,114.6 273.5,113.8 272.9,113.8 270.9,116.2 272.6,121.1 275.4,120.2" fill="#ffffff"/>
<polygon points="288.6,137.9 290.1,142.6 294.2,141.8 294.4,141.2 292.9,135.3 292.0,134.9" fill="#d6d6d6"/>
<polygon points="310.9,123.8 312.4,122.4 312.4,122.4 309.9,117.1 305.6,117.1 303.5,120.6 303.2,124.2" fill="#ffffff"/>
<polygon points="190.2,176.6 188.8,174.3 187.8,174.4 185.6,177.7 185.6,178.0 187.4,178.6" fill="#a4a4a4"/>
<polygon points="204.5,120.6 202.7,124.1 203.3,124.7 210.4,126.0 210.7,125.6 207.8,120.8" fill="#b9b9b9"/>
<polygon points="98.1,133.6 98.4,138.5 102.0,138.6 102.7,136.3 99.2,133.6" fill="#878787"/>
<polygon points="76.0,124.2 74.3,123.5 71.7,128.4 75.0,130.7 77.3,130.3" fill="#606060"/>
<polygon points="101.3,154.1 101.5,148.7 94.6,150.0 92.7,152.4 94.5,157.7 97.4,158.5 100.0,156.6" fill="#9b9b9b"/>
<polygon points="163.5,167.6 163.5,165.4 163.3,165.2 162.1,164.1 159.9,164.3 159.2,168.0 159.8,168.8 160.9,169.4" fill="#c9c9c9"/>
<polygon points="159.5,184.0 159.0,183.5 153.2,184.8 153.2,190.9 153.9,191.1 157.6,190.3 159.6,185.5" fill="#707070"/>
<polygon points="137.5,148.3 132.2,145.6 130.6,150.4 130.8,150.4 135.7,150.3" fill="#979797"/>
<polygon points="279.2,150.0 279.0,148.9 278.5,148.1 276.5,147.2 273.6,147.7 272.1,150.1 276.3,152.2 279.2,150.1" fill="#c0c0c0"/>
<polygon points="309.7,204.0 313.6,204.0 311.6,200.0 310.5,200.9" fill="#c1c1c1"/>
<polygon points="144.5,182.6 146.1,186.4 147.5,187.7 147.7,187.8 150.2,184.5 149.3,181.9 145.1,180.6" fill="#bbbbbb"/>
<polygon points="135.2,124.1 137.0,124.1 137.9,122.0 131.6,118.9 130.9,122.2" fill="#7c7c7c"/>
<polygon points="186.5,171.5 188.1,169.0 185.8,165.7 180.6,170.2 180.5,170.6 181.9,172.3 182.2,172.4" fill="#aeaeae"/>
<polygon points="325.5,118.8 325.2,119.3 325.3,123.4 326.1,123.4 331.1,120.8 330.5,118.9 327.9,117.2" fill="#f5f5f5"/>
<polygon points="262.1,155.3 261.7,157.8 265.7,158.8 266.1,158.7 265.6,156.8" fill="#171717"/>
<polygon points="256.3,123.5 256.4,123.5 259.4,122.8 259.3,119.3 256.7,117.8 254.8,118.5" fill="#bfbfbf"/>
<polygon points="320.1,117.2 318.7,113.8 314.8,113.8 314.0,114.4 317.9,119.2" fill="#747474"/>
<polygon points="82.5,144.2 85.9,144.6 90.0,141.8 89.6,141.0 84.2,139.8" fill="#a2a2a2"/>
<polygon points="322.7,169.6 317.9,169.6 317.8,169.7 319.0,172.3 323.2,172.6 323.6,170.8" fill="#878787"/>
<polygon points="81.1,163.7 80.9,163.2 76.7,163.8 75.9,166.4 77.6,167.8 80.7,167.6" fill="#393939"/>
<polygon points="190.2,163.4 187.1,162.9 185.7,164.2 185.8,165.7 188.1,169.0 190.6,169.4 191.1,169.0" fill="#5c5c5c"/>
<polygon points="272.1,176.0 270.8,175.4 267.5,180.0 270.4,180.6 271.7,178.9" fill="#717171"/>
<polygon points="292.6,150.9 293.8,148.8 293.3,148.0 287.1,146.2 286.5,149.3 288.1,151.7 289.4,152.5" fill="#464646"/>
<polygon points="286.6,200.1 286.3,199.7 280.0,199.3 280.0,199.4 283.8,204.0 285.2,204.0" fill="#505050"/>
<polygon points="189.0,201.8 187.8,201.6 184.8,204.0 190.1,204.0" fill="#f1f1f1"/>
<polygon points="327.7,146.1 330.4,148.4 337.2,147.4 337.2,146.5 335.5,142.2 330.4,143.5" fill="#afafaf"/>
<polygon points="327.3,154.0 328.8,152.3 330.4,148.4 327.7,146.1 326.3,146.0 324.2,149.9 324.0,153.9" fill="#8b8b8b"/>
<polygon points="165.4,188.1 167.1,188.9 168.7,186.8 167.9,184.7 165.6,183.8" fill="#c6c6c6"/>
<polygon points="197.0,156.4 199.1,150.3 199.1,150.3 191.6,151.3 191.1,152.6" fill="#c4c4c4"/>
<polygon points="167.9,152.7 171.8,153.9 173.4,152.4 171.8,146.8 171.4,147.0" fill="#c0c0c0"/>
<polygon points="100.4,114.2 102.3,114.1 102.3,113.8 99.8,113.8" fill="#5a5a5a"/>
<polygon points="274.4,169.5 274.6,169.6 281.0,165.1 280.8,165.0 272.9,162.0 271.1,162.4" fill="#e7e7e7"/>
<polygon points="255.1,188.4 253.2,187.7 251.8,187.8 249.4,193.7 253.8,196.6 253.8,196.6" fill="#525252"/>
<polygon points="122.8,129.0 123.6,132.5 127.3,134.7 129.4,129.3 129.1,128.8 124.0,127.0 123.7,127.0" fill="#838383"/>
<polygon points="138.5,141.7 139.6,141.3 141.0,137.1 139.5,133.8 135.2,135.9" fill="#2a2a2a"/>
<polygon points="279.9,141.4 279.2,140.6 279.1,140.6 275.5,143.4 276.5,147.2 278.5,148.1" fill="#a0a0a0"/>
<polygon points="155.3,174.0 155.0,172.7 151.1,169.8 150.4,174.2 154.7,175.3" fill="#888888"/>
<polygon points="113.8,120.4 113.3,116.5 110.9,115.0 105.9,119.0 106.3,119.9" fill="#afafaf"/>
<polygon points="259.5,179.9 259.0,179.8 258.6,180.2 255.2,188.3 258.3,189.0 261.7,184.8" fill="#868686"/>
<polygon points="146.1,172.6 142.1,168.8 137.2,173.3 136.7,174.4 146.2,174.5" fill="#5b5b5b"/>
<polygon points="67.7,147.3 67.7,152.3 71.9,150.9 72.6,149.6 67.7,147.3" fill="#8e8e8e"/>
<polygon points="229.2,134.6 226.5,129.6 223.3,130.5 224.2,133.5 229.1,134.7" fill="#515151"/>
<polygon points="162.0,172.3 160.9,169.4 159.8,168.8 158.5,171.1 159.8,173.7 161.4,174.3" fill="#f0f0f0"/>
<polygon points="229.4,125.9 230.1,125.3 232.8,121.1 228.5,117.2 226.2,116.6 224.7,123.9 227.8,126.1" fill="#464646"/>
<polygon points="262.2,117.0 263.7,117.3 265.2,114.8 265.2,113.8 258.6,113.8 258.9,114.8" fill="#afafaf"/>
<polygon points="337.2,126.0 337.2,122.0 333.0,122.8 331.7,127.4 336.4,127.7" fill="#606060"/>
<polygon points="129.9,126.6 129.1,128.8 129.4,129.3 133.3,130.2 137.7,127.2 137.0,124.1 135.2,124.1" fill="#6f6f6f"/>
<polygon points="210.1,170.8 211.3,164.6 209.2,163.7 204.0,168.9 207.0,171.7" fill="#979797"/>
<polygon points="258.4,141.7 258.3,143.0 261.0,144.3 264.6,143.8 264.8,142.9 261.7,138.9" fill="#535353"/>
<polygon points="71.8,166.5 71.6,162.8 67.7,162.2 67.7,167.4" fill="#868686"/>
<polygon points="80.8,130.3 81.9,130.4 83.5,126.4 81.3,123.8 80.0,123.8 80.1,130.1" fill="#7d7d7d"/>
<polygon points="150.8,114.4 151.0,116.1 155.5,114.6 155.6,113.8 151.1,113.8" fill="#d4d4d4"/>
<polygon points="68.5,201.1 67.7,200.7 67.7,204.0 70.0,204.0" fill="#bcbcbc"/>
<polygon points="184.2,124.7 182.7,127.4 183.6,129.7 185.5,129.1 185.8,128.6" fill="#959595"/>
<polygon points="314.6,171.1 314.4,174.0 318.3,175.3 319.0,172.3 317.8,169.7" fill="#8b8b8b"/>
<polygon points="84.2,139.8 89.6,141.0 89.1,135.3 83.8,137.5" fill="#9b9b9b"/>
<polygon points="69.3,132.0 70.6,128.8 67.7,126.6 67.7,131.7" fill="#020202"/>
<polygon points="68.6,122.7 67.7,118.9 67.7,123.3" fill="#757575"/>
<polygon points="239.1,119.8 239.2,120.5 241.0,120.7 244.2,120.0 246.2,119.1 246.2,117.4 243.8,113.8 239.7,113.8" fill="#8d8d8d"/>
<polygon points="106.5,201.8 102.4,198.1 101.2,198.1 101.1,198.2 99.9,202.4 106.1,203.9" fill="#dcdcdc"/>
<polygon points="153.0,138.4 151.1,143.4 152.3,144.6 156.1,144.8 156.8,143.3 155.0,139.8" fill="#545454"/>
<polygon points="80.4,190.6 80.1,194.1 86.2,194.2 87.4,191.2 82.6,189.2 80.5,190.6" fill="#717171"/>
<polygon points="255.5,161.1 248.1,163.1 250.3,165.7 254.6,164.5" fill="#939393"/>
<polygon points="236.1,121.6 237.7,121.5 239.2,120.5 239.1,119.8 235.2,114.2 233.5,121.0" fill="#9b9b9b"/>
<polygon points="128.4,166.6 127.3,167.9 136.2,175.1 136.7,174.4 137.2,173.3 135.5,166.5" fill="#959595"/>
<polygon points="333.9,195.8 336.1,195.6 336.8,194.9 336.4,189.8 329.2,188.0 327.5,188.8 327.3,189.8 328.5,191.9" fill="#2d2d2d"/>
<polygon points="243.8,165.9 247.8,163.0 247.3,159.0 245.1,158.1 241.4,160.7 241.2,161.7 242.2,164.6" fill="#a8a8a8"/>
<polygon points="79.6,119.0 74.4,118.5 73.6,119.1 73.2,121.9 74.3,123.5 76.0,124.2 79.6,123.7" fill="#828282"/>
<polygon points="260.0,192.9 260.2,191.0 258.3,189.0 255.2,188.3 255.1,188.4 253.8,196.6" fill="#acacac"/>
<polygon points="285.1,155.7 288.1,151.7 286.5,149.3 286.2,149.5 283.0,153.6" fill="#a9a9a9"/>
<polygon points="127.7,201.9 131.1,202.4 132.1,201.9 133.2,195.6 126.9,194.1 126.0,196.4 127.0,201.4" fill="#d2d2d2"/>
<polygon points="176.0,141.6 176.9,137.0 170.9,136.5 170.7,136.9 173.5,142.7" fill="#656565"/>
<polygon points="189.7,127.0 189.5,125.7 186.9,123.0 184.2,124.0 184.2,124.7 185.8,128.6" fill="#828282"/>
<polygon points="265.7,158.8 261.7,157.8 257.4,160.0 261.3,164.2" fill="#878787"/>
<polygon points="310.5,200.9 308.3,200.3 305.0,203.8 305.1,204.0 309.7,204.0" fill="#c1c1c1"/>
<polygon points="148.8,137.6 153.0,138.4 153.3,137.8 149.4,134.0" fill="#f3f3f3"/>
<polygon points="322.1,157.1 325.4,161.1 330.7,160.5 330.8,160.4 330.2,156.5 327.3,154.0 324.0,153.9 322.4,155.0" fill="#ffffff"/>
<polygon points="75.7,162.2 77.2,159.2 75.8,156.2 73.3,156.2 72.3,157.0 72.1,158.2 72.8,161.5" fill="#9c9c9c"/>
<polygon points="207.8,146.6 200.1,146.8 200.0,146.8 199.1,150.3 199.1,150.3 203.4,154.1 209.1,154.7 210.4,153.3" fill="#545454"/>
<polygon points="97.2,121.8 94.1,119.3 90.8,121.1 93.3,122.9 96.5,123.2 97.4,122.5" fill="#1f1f1f"/>
<polygon points="171.8,198.9 173.2,199.9 176.8,199.1 178.4,196.9 177.7,193.8 176.5,192.2 174.1,192.5 172.3,193.6" fill="#848484"/>
<polygon points="239.6,182.5 238.9,179.7 238.1,179.1 232.9,180.9 231.4,184.3 238.1,185.6" fill="#989898"/>
<polygon points="226.5,129.6 227.8,126.1 224.7,123.9 221.3,124.7 220.6,126.0 220.3,129.9 223.3,130.5" fill="#bfbfbf"/>
<polygon points="260.5,128.5 260.7,123.2 259.4,122.8 256.4,123.5 259.7,129.5 260.0,129.5" fill="#c6c6c6"/>
<polygon points="214.8,114.8 215.3,113.8 213.6,113.8" fill="#d2d2d2"/>
<polygon points="185.6,177.7 182.2,172.4 181.9,172.3 179.6,177.3 181.9,180.0 184.7,178.9 185.6,178.0" fill="#989898"/>
<polygon points="75.0,130.7 72.5,135.1 76.1,137.9 76.4,138.0 77.6,135.8 77.4,130.3 77.3,130.3" fill="#959595"/>
<polygon points="170.9,163.5 171.8,163.4 173.7,159.9 171.6,157.3 168.0,157.5 167.2,161.1 167.4,161.4" fill="#f7f7f7"/>
<polygon points="146.2,174.5 136.7,174.4 136.2,175.1 136.0,176.4 145.0,180.1 147.3,176.2" fill="#787878"/>
<polygon points="112.0,199.8 109.3,199.1 106.5,201.8 106.1,203.9 106.1,204.0 111.7,204.0 112.6,200.9" fill="#727272"/>
<polygon points="337.2,156.9 337.2,153.7 330.2,156.5 330.8,160.4" fill="#b6b6b6"/>
<polygon points="193.1,197.1 194.3,193.9 191.3,192.2 189.9,195.4 190.8,197.1" fill="#969696"/>
<polygon points="142.3,192.8 143.9,191.4 143.8,190.1 141.0,188.5 141.2,192.8" fill="#616161"/>
<polygon points="136.0,176.4 135.8,176.6 135.2,182.6 137.2,185.0 138.5,185.7 144.5,182.6 145.1,180.6 145.0,180.1" fill="#a5a5a5"/>
<polygon points="155.0,172.7 156.4,170.6 156.4,168.7 155.1,167.5 150.9,169.2 151.1,169.8" fill="#717171"/>
<polygon points="325.5,114.2 327.2,114.3 327.4,113.8 325.0,113.8" fill="#bcbcbc"/>
<polygon points="291.8,163.3 288.4,162.0 287.0,163.2 286.8,163.6 291.1,165.8" fill="#545454"/>
<polygon points="168.5,141.9 165.4,142.5 164.7,143.4 168.6,146.8 171.4,147.0 171.8,146.8 172.3,146.3 172.5,144.7" fill="#989898"/>
<polygon points="77.4,130.3 77.6,135.8 79.8,134.6 80.8,130.3 80.1,130.1" fill="#8f8f8f"/>
<polygon points="239.1,119.8 239.7,113.8 235.2,113.8 235.2,114.2" fill="#c1c1c1"/>
<polygon points="248.0,204.0 254.7,204.0 253.3,200.9 253.1,201.0 248.0,204.0" fill="#959595"/>
<polygon points="336.2,202.5 336.3,202.6 337.2,202.7 337.2,195.0 336.8,194.9 336.1,195.6" fill="#adadad"/>
<polygon points="290.9,122.9 286.5,122.2 286.2,126.8 291.2,128.8 292.8,127.6" fill="#969696"/>
<polygon points="336.4,127.7 337.2,128.5 337.2,126.0" fill="#858585"/>
<polygon points="308.3,200.3 310.5,200.9 311.6,200.0 312.3,199.0 310.9,194.9 308.0,196.7 307.2,199.2" fill="#656565"/>
<polygon points="234.6,165.6 236.7,164.5 238.3,161.6 237.2,159.0 236.2,158.7 233.9,163.8" fill="#a8a8a8"/>
<polygon points="116.0,157.9 113.8,158.7 112.4,162.2 112.5,162.5 115.9,164.1 117.8,162.2 118.1,160.8" fill="#969696"/>
<polygon points="141.7,113.8 139.0,113.8 138.3,114.9 137.9,122.0 143.3,122.0 147.0,118.9" fill="#d0d0d0"/>
<polygon points="98.1,193.1 100.1,192.6 101.2,190.4 98.1,188.4 93.5,188.9 93.5,189.1 93.8,191.8" fill="#050505"/>
<polygon points="322.1,120.1 321.6,121.1 324.9,123.6 325.3,123.4 325.2,119.3" fill="#666666"/>
<polygon points="102.1,127.9 102.2,126.6 99.6,124.6 96.8,126.6 97.0,129.4 102.0,128.1" fill="#eeeeee"/>
<polygon points="227.7,154.1 228.7,148.1 227.3,145.8 222.6,149.2 222.4,149.7 227.5,154.1" fill="#8a8a8a"/>
<polygon points="182.7,127.4 179.4,127.3 178.6,128.0 180.9,132.4 181.3,132.2 183.6,129.7" fill="#737373"/>
<polygon points="250.4,133.7 248.1,133.7 248.2,139.6 248.4,139.8 251.7,136.0" fill="#949494"/>
<polygon points="173.7,159.9 177.1,159.0 179.6,155.7 178.0,153.4 173.4,152.4 171.8,153.9 171.6,157.3" fill="#afafaf"/>
<polygon points="314.3,133.8 318.8,133.1 320.5,131.8 317.0,127.4 316.3,127.4 313.8,130.3 314.1,133.7" fill="#898989"/>
<polygon points="261.4,136.4 261.7,138.9 264.8,142.9 266.5,141.3 267.6,138.3 264.4,133.7" fill="#8f8f8f"/>
<polygon points="310.8,146.3 310.4,151.7 317.5,149.8 318.0,147.1 315.7,145.5 311.4,145.6" fill="#bfbfbf"/>
<polygon points="199.1,199.5 205.5,202.5 206.0,201.1 202.2,196.4" fill="#e0e0e0"/>
<polygon points="246.2,117.4 246.2,119.1 246.8,119.5 250.5,119.5 254.1,118.2 253.4,114.8 252.7,113.8 249.7,113.8" fill="#1c1c1c"/>
<polygon points="67.7,135.8 67.7,140.7 68.0,141.5 68.6,141.7 71.2,135.0 70.5,134.5" fill="#737373"/>
<polygon points="108.6,125.0 106.4,122.2 102.2,126.6 102.1,127.9 108.8,128.9" fill="#888888"/>
<polygon points="87.2,157.8 87.4,155.8 81.4,154.5 81.0,154.9 81.2,155.4 83.2,158.2" fill="#515151"/>
<polygon points="228.1,135.8 226.3,142.5 227.7,144.0 228.1,143.9 235.7,137.4 236.0,135.0 234.7,134.6 229.2,134.6 229.1,134.7" fill="#969696"/>
<polygon points="87.6,191.1 92.7,193.7 93.8,191.8 93.5,189.1 88.4,189.2" fill="#e8e8e8"/>
<polygon points="286.8,163.6 282.8,166.2 284.0,169.2 289.2,170.0 291.7,168.6 292.0,168.3 291.1,165.8" fill="#6b6b6b"/>
<polygon points="101.1,162.6 97.9,160.1 95.4,166.3 99.8,165.6" fill="#b0b0b0"/>
<polygon points="241.9,154.3 242.0,154.2 242.8,152.6 238.6,145.6 238.2,145.5 236.9,146.4 234.7,150.4 234.6,152.4 235.6,153.7" fill="#151515"/>
<polygon points="304.0,143.4 305.3,150.0 308.6,152.9 309.0,152.9 310.0,152.4 310.4,151.7 310.8,146.3 304.1,143.4" fill="#b0b0b0"/>
<polygon points="204.5,120.6 207.8,120.8 209.3,116.9 208.1,115.0 203.4,116.5 203.2,119.1" fill="#cdcdcd"/>
<polygon points="219.4,184.0 218.3,184.8 218.7,189.3 220.6,190.7 223.0,189.1 222.7,187.3" fill="#a9a9a9"/>
<polygon points="270.9,129.5 264.4,133.7 274.2,134.8 274.3,131.6 274.3,131.6" fill="#e4e4e4"/>
<polygon points="178.0,153.4 179.6,155.7 181.3,155.7 184.4,154.7 184.6,147.7 183.6,147.0 178.4,148.6" fill="#848484"/>
<polygon points="282.1,127.1 284.8,127.8 286.2,126.8 286.5,122.2 286.1,121.4 284.5,121.2 281.8,122.3 281.7,126.7" fill="#999999"/>
<polygon points="243.0,183.4 243.9,179.2 238.9,179.7 239.6,182.5 242.1,183.5" fill="#353535"/>
<polygon points="206.2,197.1 206.5,200.4 212.4,198.1 211.1,193.0" fill="#4e4e4e"/>
<polygon points="197.1,157.4 197.0,156.4 191.1,152.6 187.8,156.1 187.9,156.3 195.2,159.8 195.5,159.8 196.7,158.8" fill="#9b9b9b"/>
<polygon points="143.0,203.8 142.1,202.1 138.6,200.9 137.2,202.5 139.1,204.0 142.9,204.0" fill="#cecece"/>
<polygon points="147.8,176.1 147.3,176.2 145.0,180.1 145.1,180.6 149.3,181.9 151.3,180.6 151.8,178.5" fill="#5b5b5b"/>
<polygon points="173.3,203.5 173.1,204.0 174.9,204.0" fill="#939393"/>
<polygon points="83.2,158.2 81.2,155.4 79.3,159.7 81.4,161.8 82.1,161.3" fill="#6a6a6a"/>
<polygon points="71.6,162.8 71.8,166.5 73.3,167.4 75.9,166.4 76.7,163.8 75.7,162.2 72.8,161.5" fill="#424242"/>
<polygon points="115.4,148.9 115.2,148.2 112.1,143.4 106.1,148.5 109.8,151.3 110.3,151.5 111.4,151.2 115.4,148.9" fill="#b1b1b1"/>
<polygon points="149.0,169.8 143.7,167.6 142.3,168.1 142.1,168.8 146.1,172.6" fill="#a9a9a9"/>
<polygon points="297.5,201.0 293.6,199.3 292.8,199.9 291.4,204.0 298.4,204.0" fill="#515151"/>
<polygon points="155.1,167.5 155.7,163.8 152.2,162.3 150.4,163.5 149.8,165.9 150.8,169.1 150.9,169.2" fill="#c9c9c9"/>
<polygon points="331.1,120.8 333.0,122.8 337.2,122.0 337.2,114.1 335.5,114.1 330.5,118.9" fill="#858585"/>
<polygon points="307.0,170.7 306.6,170.7 306.3,170.8 305.3,172.6 305.3,176.9 305.6,177.4 306.5,177.6 309.9,174.8 309.6,172.3" fill="#aaaaaa"/>
<polygon points="143.8,190.1 147.5,187.7 146.1,186.4 140.7,188.1 141.0,188.5" fill="#b8b8b8"/>
<polygon points="141.9,197.4 139.4,197.2 138.6,200.9 142.1,202.1 143.7,199.6 143.2,198.2" fill="#686868"/>
<polygon points="86.0,113.8 81.3,113.8 80.9,117.8 84.6,121.0 87.0,120.6" fill="#9f9f9f"/>
<polygon points="272.0,155.7 276.1,153.1 276.3,152.2 272.1,150.1 269.9,150.8 269.6,152.2 271.0,155.8" fill="#909090"/>
<polygon points="102.3,162.3 103.1,159.4 100.0,156.6 97.4,158.5 97.9,160.1 101.1,162.6" fill="#d6d6d6"/>
<polygon points="144.0,160.8 141.2,163.4 140.5,164.6 142.3,168.1 143.7,167.6 145.2,166.3 145.7,161.2 145.2,160.6" fill="#727272"/>
<polygon points="266.8,199.6 269.7,200.3 273.7,198.4 273.8,197.9 271.5,193.6 270.1,194.0 266.8,198.8" fill="#d5d5d5"/>
<polygon points="73.3,173.7 76.4,173.6 77.4,172.9 77.6,167.8 75.9,166.4 73.3,167.4" fill="#434343"/>
<polygon points="276.5,116.5 279.9,118.1 281.4,117.4 282.4,114.8 276.3,114.3 275.8,114.6" fill="#dbdbdb"/>
<polygon points="312.0,166.8 312.3,165.4 307.4,163.9 306.6,170.7 307.0,170.7" fill="#b3b3b3"/>
<polygon points="313.9,186.6 309.8,189.6 310.0,192.5 311.1,193.9 313.7,193.3 316.6,190.2 316.8,187.7" fill="#d0d0d0"/>
<polygon points="305.1,116.4 305.6,117.1 309.9,117.1 312.1,114.8 311.7,113.8 305.4,113.8" fill="#c3c3c3"/>
<polygon points="268.8,125.7 263.5,124.1 263.2,126.9 265.4,128.4" fill="#535353"/>
<polygon points="130.7,142.6 130.7,142.6 138.3,142.0 138.5,141.7 135.2,135.9 134.4,135.8 130.2,137.8" fill="#787878"/>
<polygon points="230.6,173.5 231.3,168.9 226.9,168.7 225.9,172.8 226.5,174.5" fill="#cbcbcb"/>
<polygon points="115.2,148.2 116.3,141.9 114.8,141.1 112.2,142.7 112.1,143.4" fill="#8e8e8e"/>
<polygon points="294.6,160.9 293.8,161.0 291.8,163.3 291.1,165.8 292.0,168.3 294.5,168.1 296.1,165.5" fill="#d6d6d6"/>
<polygon points="206.3,183.5 201.4,187.9 208.9,189.3" fill="#aaaaaa"/>
<polygon points="248.2,139.6 248.1,133.7 246.4,132.9 245.2,138.3" fill="#373737"/>
<polygon points="81.4,154.5 87.4,155.8 88.8,152.7 86.9,151.0 83.4,150.7" fill="#606060"/>
<polygon points="309.8,172.2 313.1,170.4 312.0,166.8 307.0,170.7 309.6,172.3" fill="#989898"/>
<polygon points="73.2,149.2 72.6,149.6 71.9,150.9 73.3,156.2 75.8,156.2 77.9,154.5 77.3,152.2 75.1,150.3" fill="#828282"/>
<polygon points="167.8,166.2 167.9,168.8 171.4,170.8 172.9,169.9 173.7,166.4 171.8,163.4 170.9,163.5" fill="#676767"/>
<polygon points="153.5,150.7 155.7,152.3 157.2,152.5 158.2,151.6 157.2,146.5" fill="#808080"/>
<polygon points="236.3,201.8 236.4,200.5 235.3,198.8 229.0,200.1 230.4,204.0 234.0,204.0" fill="#e3e3e3"/>
<polygon points="256.8,159.7 257.4,160.0 261.7,157.8 262.1,155.3 261.6,153.7 257.8,155.5 256.4,159.0" fill="#939393"/>
<polygon points="289.3,157.6 289.2,157.9 289.8,159.2 293.8,161.0 294.6,160.9 295.5,159.9 294.1,155.9" fill="#909090"/>
<polygon points="332.9,132.2 332.9,132.3 332.6,138.1 333.1,139.3 334.9,140.9 337.2,135.0 337.2,132.8" fill="#848484"/>
<polygon points="98.1,193.1 93.8,191.8 92.7,193.7 92.5,196.2 95.2,196.9" fill="#7e7e7e"/>
<polygon points="143.8,194.6 141.9,197.4 143.2,198.2 147.0,196.6 147.0,196.3 145.7,194.4" fill="#939393"/>
<polygon points="233.9,163.8 236.2,158.7 235.2,157.3 232.3,158.4 231.8,161.9" fill="#8c8c8c"/>
<polygon points="87.4,191.2 87.6,191.1 88.4,189.2 87.2,186.1 86.7,185.9 83.6,187.5 82.6,189.2" fill="#939393"/>
<polygon points="311.6,135.1 307.2,134.7 307.0,135.2 308.8,140.1 311.9,140.8 312.0,140.7" fill="#6d6d6d"/>
<polygon points="101.1,198.2 95.8,197.5 95.7,199.5 99.9,202.4 99.9,202.4" fill="#9c9c9c"/>
<polygon points="191.8,114.8 191.5,115.1 191.0,117.5 194.3,122.1 195.1,122.4 198.5,118.9 197.6,114.0" fill="#636363"/>
<polygon points="205.0,135.0 205.6,130.2 203.4,129.2 202.0,129.4 201.6,133.9" fill="#acacac"/>
<polygon points="174.4,177.6 176.9,176.8 178.1,171.6 175.3,171.4" fill="#1c1c1c"/>
<polygon points="323.0,194.2 327.3,189.8 327.5,188.8 321.9,183.9 320.4,185.4 321.1,192.7" fill="#c5c5c5"/>
<polygon points="106.1,148.5 103.2,147.5 102.1,148.0 101.5,148.7 101.3,154.1 106.1,157.1 109.8,151.3" fill="#787878"/>
<polygon points="85.5,161.8 88.4,159.8 87.2,157.8 83.2,158.2 82.1,161.3" fill="#bababa"/>
<polygon points="320.8,154.2 322.4,155.0 324.0,153.9 324.2,149.9 319.5,146.2 318.0,147.1 317.5,149.8" fill="#8f8f8f"/>
<polygon points="130.1,161.3 128.4,166.6 135.5,166.5 135.9,165.7 134.3,163.3 131.0,161.5" fill="#ffffff"/>
<polygon points="154.4,200.4 153.1,200.1 148.4,201.2 147.6,202.0 147.2,203.2 147.4,204.0 152.7,204.0" fill="#919191"/>
<polygon points="83.4,131.5 89.4,131.2 86.8,126.5 83.5,126.4 81.9,130.4" fill="#979797"/>
<polygon points="85.4,183.7 86.9,179.0 82.8,178.7 82.2,183.1" fill="#a6a6a6"/>
<polygon points="142.1,202.1 143.0,203.8 147.2,203.2 147.6,202.0 143.7,199.6" fill="#a8a8a8"/>
<polygon points="316.6,202.8 314.7,204.0 319.2,204.0" fill="#c2c2c2"/>
<polygon points="275.8,114.6 276.3,114.3 276.7,113.8 273.5,113.8" fill="#818181"/>
<polygon points="263.3,201.1 259.5,199.3 254.1,199.5 253.3,200.9 254.7,204.0 262.2,204.0" fill="#6e6e6e"/>
<polygon points="337.2,182.4 337.2,178.4 331.1,178.5 331.9,181.9 333.4,182.7" fill="#f6f6f6"/>
<polygon points="306.6,192.7 304.0,196.2 308.0,196.7 310.9,194.9 311.1,193.9 310.0,192.5" fill="#a6a6a6"/>
<polygon points="158.5,115.8 158.4,120.7 161.0,121.8 163.8,119.3 161.6,113.8 160.0,113.8" fill="#cecece"/>
<polygon points="268.0,119.1 264.3,118.9 264.2,119.7 269.6,124.2 270.3,123.5" fill="#111111"/>
<polygon points="216.2,157.4 214.7,164.0 220.3,163.2 219.2,156.9" fill="#737373"/>
<polygon points="332.9,132.3 329.8,133.6 328.8,136.0 332.6,138.1" fill="#999999"/>
<polygon points="165.6,137.7 162.6,135.6 160.4,137.1 159.9,140.0 159.9,140.3 163.1,143.9 164.7,143.4 165.4,142.5" fill="#696969"/>
<polygon points="99.3,203.7 99.3,203.3 94.3,201.7 91.3,202.6 91.5,204.0 99.0,204.0" fill="#898989"/>
<polygon points="317.9,164.5 316.8,163.1 316.4,163.0 312.3,165.4 312.0,166.8 313.1,170.4 314.6,171.1 317.8,169.7 317.9,169.6" fill="#373737"/>
<polygon points="250.3,187.2 251.8,187.8 253.2,187.7 253.0,182.9 250.7,181.5 249.5,185.4" fill="#4f4f4f"/>
<polygon points="76.5,113.8 70.0,113.8 70.0,116.3 73.6,119.1 74.4,118.5" fill="#393939"/>
<polygon points="197.7,113.9 201.3,114.4 201.9,113.8 197.8,113.8" fill="#474747"/>
<polygon points="198.4,182.5 198.2,183.9 199.2,187.3 200.1,188.2 201.4,187.9 206.3,183.5 206.8,181.9 205.2,178.5 202.5,178.2 198.6,181.9" fill="#9d9d9d"/>
<polygon points="245.8,174.8 248.2,171.4 247.5,169.6 243.5,167.5 240.5,171.6 245.0,175.0" fill="#999999"/>
<polygon points="71.2,135.0 72.5,135.1 75.0,130.7 71.7,128.4 70.6,128.8 69.3,132.0 70.5,134.5" fill="#414141"/>
<polygon points="314.0,114.4 312.1,114.8 309.9,117.1 312.4,122.4 317.8,120.3 317.9,119.2" fill="#b2b2b2"/>
<polygon points="331.7,127.4 333.0,122.8 331.1,120.8 326.1,123.4 330.4,127.8 331.4,127.8" fill="#949494"/>
<polygon points="171.8,163.4 173.7,166.4 178.3,166.2 179.6,163.7 177.1,159.0 173.7,159.9" fill="#a3a3a3"/>
<polygon points="266.3,200.1 263.3,201.1 262.2,204.0 267.2,204.0" fill="#a4a4a4"/>
<polygon points="264.6,143.8 266.2,147.2 266.7,147.4 270.4,145.0 271.2,142.2 266.5,141.3 264.8,142.9" fill="#777777"/>
<polygon points="82.2,183.1 82.8,178.7 81.6,177.9 79.4,178.2 78.2,180.1 81.2,183.6" fill="#d7d7d7"/>
<polygon points="278.7,126.2 281.7,126.7 281.8,122.3 279.0,121.8 278.4,122.0 277.8,124.6" fill="#808080"/>
<polygon points="191.5,163.2 195.2,159.8 187.9,156.3 187.1,162.9 190.2,163.4" fill="#272727"/>
<polygon points="257.0,146.8 256.9,146.7 253.8,146.1 250.7,150.9 254.8,151.0 257.3,148.5" fill="#767676"/>
<polygon points="262.2,152.4 261.6,153.7 262.1,155.3 265.6,156.8 265.6,156.0" fill="#dedede"/>
<polygon points="172.3,146.3 177.3,147.6 178.9,142.7 176.0,141.6 173.5,142.7 172.5,144.7" fill="#4b4b4b"/>
<polygon points="200.3,134.0 200.1,139.9 200.3,140.0 206.2,137.5 205.0,135.0 201.6,133.9" fill="#dadada"/>
<polygon points="127.5,119.1 126.9,119.3 126.0,120.8 127.3,123.2 129.2,123.6 130.3,122.4" fill="#2e2e2e"/>
<polygon points="185.0,140.5 185.6,135.7 184.3,135.8 182.3,140.4 182.5,140.8" fill="#8a8a8a"/>
<polygon points="297.5,201.0 302.0,198.3 302.3,196.9 300.9,194.1 297.5,193.2 293.3,196.3 293.6,199.3" fill="#919191"/>
<polygon points="158.5,171.1 156.4,170.6 155.0,172.7 155.3,174.0 159.8,173.7" fill="#7f7f7f"/>
<polygon points="315.7,145.5 318.0,147.1 319.5,146.2 320.5,144.7 318.6,139.4 317.5,139.3 316.5,140.0" fill="#d5d5d5"/>
<polygon points="220.5,156.3 220.6,151.2 216.4,150.0 211.4,153.4 216.2,157.4 219.2,156.9" fill="#686868"/>
<polygon points="248.0,204.0 243.4,202.8 242.8,203.1 242.0,204.0 248.0,204.0" fill="#838383"/>
<polygon points="99.3,203.7 99.0,204.0 99.5,204.0" fill="#949494"/>
<polygon points="246.6,193.3 249.4,193.7 251.8,187.8 250.3,187.2 244.9,189.5 245.0,190.9" fill="#8f8f8f"/>
<polygon points="242.3,196.7 239.4,198.8 239.4,199.3 242.8,203.1 243.4,202.8 244.6,197.5" fill="#858585"/>
<polygon points="151.8,178.5 151.3,180.6 152.8,181.8 157.8,180.2 157.8,180.0 154.8,177.2" fill="#a3a3a3"/>
<polygon points="135.2,157.4 130.1,160.2 130.0,160.7 130.1,161.3 131.0,161.5 135.2,160.7 136.6,158.0" fill="#2a2a2a"/>
<polygon points="255.8,131.1 255.6,124.0 253.8,124.3 252.3,125.2 253.0,130.6 253.0,130.7" fill="#a5a5a5"/>
<polygon points="80.1,194.1 80.4,190.6 74.8,187.4 72.0,188.3 72.4,190.1 77.0,195.9 78.3,196.1 78.3,196.1" fill="#acacac"/>
<polygon points="291.3,176.4 289.5,174.4 287.1,176.5 289.6,178.4" fill="#c6c6c6"/>
<polygon points="150.4,174.2 147.8,176.1 151.8,178.5 154.8,177.2 154.7,175.3" fill="#7a7a7a"/>
<polygon points="81.6,177.9 82.8,178.7 86.9,179.0 88.6,178.0 88.2,175.3 87.8,174.9 82.8,174.3" fill="#e6e6e6"/>
<polygon points="219.3,171.4 225.9,172.8 226.9,168.7 225.9,167.7 221.8,168.2 218.7,170.9" fill="#929292"/>
<polygon points="189.2,132.4 190.3,128.2 190.1,127.6 189.7,127.0 185.8,128.6 185.5,129.1 187.8,133.0 188.2,133.2" fill="#bcbcbc"/>
<polygon points="269.6,152.2 266.9,153.6 265.6,156.0 265.6,156.8 266.1,158.7 269.4,159.7 271.0,155.8" fill="#8f8f8f"/>
<polygon points="273.0,146.1 274.4,143.5 271.8,141.8 271.2,142.2 270.4,145.0" fill="#3f3f3f"/>
<polygon points="81.4,161.8 80.9,163.2 81.1,163.7 85.4,165.7 85.6,165.5 85.5,161.8 82.1,161.3" fill="#b7b7b7"/>
<polygon points="236.3,201.8 234.0,204.0 240.4,204.0" fill="#585858"/>
<polygon points="314.8,113.8 311.7,113.8 312.1,114.8 314.0,114.4" fill="#7b7b7b"/>
<polygon points="274.2,134.8 274.3,135.0 283.6,134.1 283.7,133.8 279.6,130.9 276.3,130.7 274.3,131.6" fill="#a7a7a7"/>
<polygon points="256.9,146.7 257.0,146.8 260.1,146.3 261.0,144.3 258.3,143.0 257.9,143.2" fill="#787878"/>
<polygon points="154.3,157.8 153.2,156.1 149.7,154.4 147.8,156.4 152.2,160.8" fill="#696969"/>
<polygon points="206.9,177.0 205.2,178.5 206.8,181.9 209.8,182.6 212.3,182.4 213.5,181.1 213.7,180.5 207.5,176.9" fill="#a8a8a8"/>
<polygon points="243.9,179.2 244.8,178.7 245.0,175.0 240.5,171.6 238.8,172.0 238.4,172.7 238.1,179.1 238.9,179.7" fill="#bebebe"/>
<polygon points="170.6,174.6 166.1,177.4 169.0,180.3 172.0,181.4 173.6,180.2 174.0,177.9" fill="#767676"/>
<polygon points="159.8,168.8 159.2,168.0 156.4,168.7 156.4,170.6 158.5,171.1" fill="#828282"/>
<polygon points="194.2,167.6 191.5,163.2 190.2,163.4 191.1,169.0" fill="#a2a2a2"/>
<polygon points="125.0,150.7 125.8,150.3 126.3,144.9 121.4,142.1 121.0,142.4 119.2,147.3 123.4,150.6" fill="#858585"/>
<polygon points="77.4,172.9 76.4,173.6 79.4,178.2 81.6,177.9 82.8,174.3 81.4,172.0" fill="#e2e2e2"/>
<polygon points="311.9,140.8 311.4,145.6 315.7,145.5 316.5,140.0 312.0,140.7" fill="#838383"/>
<polygon points="88.2,175.3 91.0,173.3 91.2,167.1 86.8,170.7 87.8,174.9" fill="#6a6a6a"/>
<polygon points="99.9,202.4 95.7,199.5 94.3,201.7 99.3,203.3" fill="#7f7f7f"/>
<polygon points="95.5,140.9 91.8,142.7 92.1,146.0 94.6,150.0 101.5,148.7 102.1,148.0" fill="#a1a1a1"/>
<polygon points="197.6,114.0 198.5,118.9 200.4,119.8 203.2,119.1 203.4,116.5 201.3,114.4 197.7,113.9" fill="#727272"/>
<polygon points="153.3,137.8 153.9,137.0 153.8,131.5 152.1,131.2 149.2,133.3 149.4,134.0" fill="#676767"/>
<polygon points="159.6,185.5 157.6,190.3 159.1,191.7 163.0,191.0 164.1,188.3" fill="#ededed"/>
<polygon points="95.4,166.3 94.6,166.9 97.1,172.0 101.6,172.7 103.4,168.7 99.8,165.6" fill="#a9a9a9"/>
<polygon points="182.3,140.4 184.3,135.8 180.8,132.7 178.8,134.7 178.5,135.8" fill="#5d5d5d"/>
<polygon points="295.6,184.8 290.7,182.3 289.3,183.8 292.9,188.6 294.0,188.4" fill="#a6a6a6"/>
<polygon points="94.8,131.7 92.1,132.3 95.8,140.0 98.4,138.5 98.1,133.6" fill="#a3a3a3"/>
<polygon points="233.7,192.4 227.2,197.3 227.0,197.6 229.0,200.1 235.3,198.8 236.2,193.2 236.0,193.0" fill="#676767"/>
<polygon points="237.3,131.5 236.5,134.7 238.0,134.9 245.6,132.4 243.2,127.4 242.2,127.4 239.6,128.4" fill="#b4b4b4"/>
<polygon points="162.0,175.5 164.2,176.3 166.5,172.4 165.6,170.0 165.3,170.0 162.0,172.3 161.4,174.3" fill="#5e5e5e"/>
<polygon points="320.3,138.6 325.4,141.3 326.9,139.9 326.9,139.9 326.8,137.1 326.4,136.7 322.2,136.3" fill="#989898"/>
<polygon points="256.8,152.5 257.8,155.5 261.6,153.7 262.2,152.4 262.3,151.7 262.2,150.7 261.2,150.3" fill="#9e9e9e"/>
<polygon points="286.2,126.8 284.8,127.8 284.2,133.3 290.7,132.9 291.2,128.8" fill="#323232"/>
<polygon points="252.9,176.1 245.8,174.8 245.0,175.0 244.8,178.7 247.1,180.4 250.0,180.2" fill="#9b9b9b"/>
<polygon points="190.1,127.6 196.3,126.5 196.6,124.7 195.1,122.4 194.3,122.1 189.5,125.7 189.7,127.0" fill="#808080"/>
<polygon points="172.5,186.9 173.2,187.2 176.5,187.0 178.5,183.5 173.6,180.2 172.0,181.4 171.9,181.8 172.5,186.9" fill="#b4b4b4"/>
<polygon points="110.9,115.0 113.3,116.5 117.2,114.8 117.2,114.6 116.5,113.8 111.2,113.8" fill="#999999"/>
<polygon points="193.8,132.8 194.8,131.1 190.3,128.2 189.2,132.4" fill="#777777"/>
<polygon points="291.9,194.9 291.3,191.2 285.4,189.5 284.8,190.1 285.2,194.8 285.6,195.1" fill="#656565"/>
<polygon points="328.5,197.5 331.2,197.5 333.9,195.8 328.5,191.9" fill="#848484"/>
<polygon points="246.8,119.5 246.2,119.1 244.2,120.0 243.9,126.9 246.7,126.6 248.7,124.9" fill="#9c9c9c"/>
<polygon points="291.3,181.2 290.7,182.3 295.6,184.8 298.6,183.3 298.8,182.1 298.6,181.6 291.8,180.9" fill="#8d8d8d"/>
<polygon points="273.3,182.5 274.1,179.6 271.7,178.9 270.4,180.6 272.3,182.9" fill="#535353"/>
<polygon points="293.9,135.0 292.9,135.3 294.4,141.2 300.1,137.8" fill="#d6d6d6"/>
<polygon points="247.3,159.0 247.8,163.0 248.1,163.1 255.5,161.1 256.8,159.7 256.4,159.0 250.9,155.7" fill="#b5b5b5"/>
<polygon points="155.0,139.8 156.8,143.3 159.9,140.3 159.9,140.0" fill="#939393"/>
<polygon points="106.1,157.1 101.3,154.1 100.0,156.6 103.1,159.4 106.4,158.6" fill="#999999"/>
<polygon points="163.6,148.4 162.3,151.8 166.7,152.2 166.2,148.9" fill="#a9a9a9"/>
<polygon points="298.8,179.6 304.6,178.9 305.6,177.4 305.3,176.9 298.3,175.3 298.2,176.8" fill="#9b9b9b"/>
<polygon points="120.2,160.2 122.6,162.9 124.4,159.8 123.3,157.2 121.1,157.1" fill="#c2c2c2"/>
<polygon points="81.2,147.7 83.4,150.7 86.9,151.0 87.7,147.6 85.9,144.6 82.5,144.2 81.4,144.7 81.1,146.9 81.1,147.4" fill="#898989"/>
<polygon points="327.2,114.3 327.9,117.2 330.5,118.9 335.5,114.1 335.1,113.8 327.4,113.8" fill="#848484"/>
<polygon points="273.8,197.9 273.7,198.4 276.2,200.7 279.5,199.8 280.0,199.4 280.0,199.3 280.0,198.0 276.7,195.6" fill="#939393"/>
<polygon points="211.2,191.2 210.4,190.4 208.9,189.3 201.4,187.9 200.1,188.2 200.1,190.3 202.5,193.3 211.1,192.3" fill="#8c8c8c"/>
<polygon points="183.6,147.0 184.6,147.7 185.5,147.4 191.3,142.8 191.1,141.7 190.5,141.4 187.3,140.4 185.0,140.5 182.5,140.8 181.9,142.1" fill="#989898"/>
<polygon points="209.7,128.0 210.4,126.0 203.3,124.7 203.4,129.2 205.6,130.2" fill="#ffffff"/>
<polygon points="145.2,137.1 144.7,137.8 144.6,142.3 146.0,143.7 147.1,143.3 148.8,137.6 146.0,136.8" fill="#7b7b7b"/>
<polygon points="337.2,146.5 337.2,141.0 335.5,142.1 335.5,142.2" fill="#a5a5a5"/>
<polygon points="127.7,201.9 127.0,201.4 123.5,202.3 122.7,204.0 127.0,204.0" fill="#b7b7b7"/>
<polygon points="305.3,176.9 305.3,172.6 298.1,174.4 298.1,174.5 298.3,175.3" fill="#858585"/>
<polygon points="184.2,124.0 181.9,123.1 179.4,127.3 182.7,127.4 184.2,124.7" fill="#4f4f4f"/>
<polygon points="87.0,120.6 88.0,121.3 90.3,121.3 90.5,121.2 91.4,113.8 86.0,113.8" fill="#727272"/>
<polygon points="158.2,151.6 159.9,151.3 160.7,146.3 157.2,146.2 157.2,146.5" fill="#515151"/>
<polygon points="324.9,165.1 325.4,161.1 322.1,157.1 316.8,163.1 317.9,164.5 322.8,165.6" fill="#999999"/>
<polygon points="103.4,168.7 106.0,166.9 105.4,164.0 102.3,162.3 101.1,162.6 99.8,165.6" fill="#bdbdbd"/>
<polygon points="102.3,114.1 104.0,115.3 105.2,113.8 102.3,113.8" fill="#848484"/>
<polygon points="326.9,139.9 330.4,143.5 335.5,142.2 335.5,142.1 334.9,140.9 333.1,139.3 326.9,139.9" fill="#808080"/>
<polygon points="113.8,120.4 116.1,121.7 118.8,118.8 117.2,114.8 113.3,116.5" fill="#767676"/>
<polygon points="248.4,149.8 242.8,152.6 242.0,154.2 245.1,158.1 247.3,159.0 250.9,155.7 250.6,151.0" fill="#6d6d6d"/>
<polygon points="133.8,191.0 137.2,185.0 135.2,182.6 131.9,184.2 130.5,188.9" fill="#565656"/>
<polygon points="199.7,169.1 202.2,161.6 196.7,158.8 195.5,159.8 197.3,167.7 199.6,169.1" fill="#c5c5c5"/>
<polygon points="191.9,179.6 193.2,176.9 190.2,176.6 187.4,178.6 189.0,179.8" fill="#888888"/>
<polygon points="81.2,155.4 81.0,154.9 77.9,154.5 75.8,156.2 77.2,159.2 79.3,159.7" fill="#949494"/>
<polygon points="124.1,114.2 123.7,115.9 126.9,119.3 127.5,119.1 130.6,116.7 130.8,116.1 130.2,115.2 124.5,114.0" fill="#757575"/>
<polygon points="116.8,129.5 113.3,129.8 110.9,131.4 113.4,136.0 114.5,136.4 116.4,135.8 118.1,132.2 117.9,130.6" fill="#737373"/>
<polygon points="333.4,182.7 331.9,181.9 329.2,188.0 336.4,189.8 337.2,188.8 337.2,187.8" fill="#c7c7c7"/>
<polygon points="304.6,178.9 298.8,179.6 298.6,181.6 298.8,182.1 304.1,182.4" fill="#ababab"/>
<polygon points="151.5,150.4 152.3,144.6 151.1,143.4 147.1,143.3 146.0,143.7 144.6,148.2 150.2,151.1" fill="#171717"/>
<polygon points="186.4,135.5 185.6,135.7 185.0,140.5 187.3,140.4" fill="#020202"/>
<polygon points="181.6,184.4 180.4,183.1 178.5,183.5 176.5,187.0 177.8,189.6 179.9,189.6" fill="#545454"/>
<polygon points="82.7,134.8 79.8,134.6 77.6,135.8 76.4,138.0 77.0,138.7 83.5,137.3" fill="#b2b2b2"/>
<polygon points="193.9,176.4 198.6,181.9 202.5,178.2 198.9,172.2 198.1,172.7" fill="#777777"/>
<polygon points="246.5,183.0 247.1,180.4 244.8,178.7 243.9,179.2 243.0,183.4 244.0,184.1" fill="#d6d6d6"/>
<polygon points="89.4,131.2 90.9,132.1 91.1,132.0 91.9,128.5 90.3,121.3 88.0,121.3 86.8,126.5" fill="#f3f3f3"/>
<polygon points="148.8,137.6 148.8,137.6 149.4,134.0 149.2,133.3 147.6,133.2 146.0,136.8" fill="#6b6b6b"/>
<polygon points="149.4,190.1 147.7,187.8 147.5,187.7 143.8,190.1 143.9,191.4 146.0,192.7" fill="#d8d8d8"/>
<polygon points="322.7,169.6 323.6,170.8 327.6,169.0 326.7,166.3 324.9,165.1 322.8,165.6" fill="#4b4b4b"/>
<polygon points="160.7,146.3 162.1,145.8 163.1,143.9 159.9,140.3 156.8,143.3 156.1,144.8 157.2,146.2" fill="#bebebe"/>
<polygon points="239.8,193.7 236.4,193.3 239.4,198.8 242.3,196.7" fill="#e3e3e3"/>
<polygon points="158.9,129.3 162.4,125.3 161.0,121.8 158.4,120.7 156.6,121.0 154.1,124.3 156.2,129.7" fill="#898989"/>
<polygon points="298.1,171.7 298.1,174.4 305.3,172.6 306.3,170.8 301.7,168.4" fill="#878787"/>
<polygon points="164.1,188.3 163.0,191.0 165.9,193.3 168.0,191.3 167.1,188.9 165.4,188.1" fill="#ffffff"/>
<polygon points="246.2,117.4 249.7,113.8 243.8,113.8" fill="#7d7d7d"/>
<polygon points="170.5,173.2 170.6,174.6 174.0,177.9 174.4,177.6 175.3,171.4 172.9,169.9 171.4,170.8" fill="#5b5b5b"/>
<polygon points="250.9,155.7 256.4,159.0 257.8,155.5 256.8,152.5 254.8,151.0 250.7,150.9 250.6,151.0" fill="#3e3e3e"/>
<polygon points="191.6,183.8 192.4,184.4 198.2,183.9 198.4,182.5 192.3,180.6" fill="#919191"/>
<polygon points="211.0,117.1 214.8,115.0 214.8,114.8 213.6,113.8 208.2,113.8 208.1,115.0 209.3,116.9" fill="#aaaaaa"/>
<polygon points="124.5,114.0 130.2,115.2 130.3,113.8 124.6,113.8" fill="#6c6c6c"/>
<polygon points="117.6,124.8 116.1,122.7 112.9,125.0 113.3,129.8 116.8,129.5" fill="#989898"/>
<polygon points="181.9,142.1 182.5,140.8 182.3,140.4 178.5,135.8 176.9,137.0 176.0,141.6 178.9,142.7" fill="#6d6d6d"/>
<polygon points="159.1,191.7 160.6,196.5 165.6,194.7 165.9,193.3 163.0,191.0" fill="#c8c8c8"/>
<polygon points="289.8,159.2 288.4,162.0 291.8,163.3 293.8,161.0" fill="#bcbcbc"/>
<polygon points="186.4,135.5 187.1,134.9 188.2,133.3 188.2,133.2 187.8,133.0 181.3,132.2 180.9,132.4 180.8,132.7 184.3,135.8 185.6,135.7" fill="#b3b3b3"/>
<polygon points="218.5,131.5 212.6,125.5 212.0,125.2 210.7,125.6 210.4,126.0 209.7,128.0 213.3,136.5 214.3,136.6 217.6,134.1" fill="#696969"/>
<polygon points="300.9,194.1 302.3,196.9 304.0,196.2 306.6,192.7 303.5,190.5 302.5,191.3" fill="#b1b1b1"/>
<polygon points="316.5,140.0 317.5,139.3 314.3,133.8 314.1,133.7 311.6,135.1 312.0,140.7" fill="#a2a2a2"/>
<polygon points="253.1,201.0 253.3,200.9 254.1,199.5 253.8,196.6 249.4,193.7 246.6,193.3 244.9,197.3" fill="#c2c2c2"/>
<polygon points="292.8,199.9 293.6,199.3 293.3,196.3 291.9,194.9 285.6,195.1 286.3,199.7 286.6,200.1" fill="#919191"/>
<polygon points="198.3,199.8 199.1,199.5 202.2,196.4 202.5,195.8 202.5,193.3 200.1,190.3 196.2,194.2 198.0,199.4" fill="#c1c1c1"/>
<polygon points="188.2,133.3 192.9,138.8 194.5,137.7 193.8,132.8 189.2,132.4 188.2,133.2" fill="#ababab"/>
<polygon points="191.3,142.8 192.5,144.2 200.0,146.8 200.1,146.8 200.3,140.0 200.1,139.9 195.3,137.7 194.5,137.7 192.9,138.8 191.1,141.7" fill="#c6c6c6"/>
<polygon points="276.7,195.6 280.0,198.0 281.3,196.2 279.7,192.5 276.4,194.0" fill="#bababa"/>
<polygon points="98.7,123.0 99.6,124.6 102.2,126.6 106.4,122.2 106.3,119.9 105.9,119.0 105.7,118.9 102.2,119.8" fill="#7f7f7f"/>
<polygon points="171.6,157.3 171.8,153.9 167.9,152.7 167.3,152.8 166.3,155.9 168.0,157.5" fill="#6e6e6e"/>
<polygon points="336.3,202.6 336.2,202.5 332.3,203.0 331.4,204.0 336.2,204.0" fill="#7d7d7d"/>
<polygon points="337.2,187.8 337.2,182.4 333.4,182.7" fill="#a2a2a2"/>
<polygon points="255.8,131.1 253.0,130.7 250.4,133.7 251.7,136.0 254.5,137.2 256.7,134.6 255.9,131.1" fill="#616161"/>
<polygon points="300.3,134.5 296.9,132.5 293.9,135.0 300.1,137.8 300.9,137.7" fill="#949494"/>
<polygon points="83.5,137.3 77.0,138.7 77.5,141.8 81.4,144.7 82.5,144.2 84.2,139.8 83.8,137.5" fill="#fdfdfd"/>
<polygon points="149.3,181.9 150.2,184.5 153.1,184.7 152.8,181.8 151.3,180.6" fill="#b5b5b5"/>
<polygon points="311.1,193.9 310.9,194.9 312.3,199.0 315.1,199.6 318.1,197.1 317.2,195.8 313.7,193.3" fill="#adadad"/>
<polygon points="234.1,167.5 238.8,172.0 240.5,171.6 243.5,167.5 243.8,165.9 242.2,164.6 236.7,164.5 234.6,165.6" fill="#a5a5a5"/>
<polygon points="126.0,196.4 119.6,198.1 119.6,199.2 123.5,202.3 127.0,201.4" fill="#828282"/>
<polygon points="280.8,165.0 276.9,158.3 276.6,158.1 272.9,162.0" fill="#161616"/>
<polygon points="105.8,133.6 105.8,133.6 109.6,131.1 108.8,128.9 102.1,127.9 102.0,128.1 102.7,130.6" fill="#696969"/>
<polygon points="169.8,137.3 165.6,137.7 165.4,142.5 168.5,141.9" fill="#9e9e9e"/>
<polygon points="81.1,147.4 81.1,146.9 73.5,147.9 73.2,149.2 75.1,150.3" fill="#e3e3e3"/>
<polygon points="191.1,141.7 192.9,138.8 188.2,133.3 187.1,134.9 190.5,141.4" fill="#bbbbbb"/>
<polygon points="173.5,142.7 170.7,136.9 169.8,137.3 168.5,141.9 172.5,144.7" fill="#818181"/>
<polygon points="166.5,172.4 170.5,173.2 171.4,170.8 167.9,168.8 165.6,170.0" fill="#808080"/>
<polygon points="203.4,129.2 203.3,124.7 202.7,124.1 200.8,124.2 201.0,129.3 202.0,129.4" fill="#a7a7a7"/>
<polygon points="285.2,157.7 287.0,163.2 288.4,162.0 289.8,159.2 289.2,157.9" fill="#a4a4a4"/>
<polygon points="188.7,184.2 191.6,183.8 192.3,180.6 191.9,179.6 189.0,179.8" fill="#cfcfcf"/>
<polygon points="273.5,191.5 271.5,193.6 273.8,197.9 276.7,195.6 276.4,194.0" fill="#161616"/>
<polygon points="292.7,179.3 292.7,176.6 291.3,176.4 289.6,178.4 291.3,181.2 291.8,180.9" fill="#919191"/>
<polygon points="268.8,125.7 268.9,125.6 269.6,124.2 264.2,119.7 262.3,122.9 263.5,124.1" fill="#868686"/>
<polygon points="259.7,129.5 255.9,131.1 256.7,134.6 261.3,136.4 261.4,136.4 264.4,133.7 264.4,133.7 263.9,132.7 260.0,129.5" fill="#757575"/>
<polygon points="137.9,122.0 137.9,122.0 138.3,114.9 130.8,116.1 130.6,116.7 131.6,118.9" fill="#7f7f7f"/>
<polygon points="244.9,189.5 250.3,187.2 249.5,185.4 247.2,184.3 244.4,188.6 244.4,188.8" fill="#6d6d6d"/>
<polygon points="279.9,118.1 279.0,121.8 281.8,122.3 284.5,121.2 281.4,117.4" fill="#464646"/>
<polygon points="244.9,197.3 246.6,193.3 245.0,190.9 239.8,193.7 242.3,196.7 244.6,197.5" fill="#737373"/>
<polygon points="70.6,128.8 71.7,128.4 74.3,123.5 73.2,121.9 68.6,122.7 67.7,123.3 67.7,126.6" fill="#a5a5a5"/>
<polygon points="135.2,153.3 134.1,154.4 134.1,154.4 135.2,157.4 136.6,158.0 138.4,158.1 139.3,157.4 140.1,155.2" fill="#c4c4c4"/>
<polygon points="105.4,164.0 106.0,166.9 109.6,167.8 112.5,162.5 112.4,162.2 107.6,160.3" fill="#8c8c8c"/>
<polygon points="154.8,177.2 157.8,180.0 162.0,175.5 161.4,174.3 159.8,173.7 155.3,174.0 154.7,175.3" fill="#e1e1e1"/>
<polygon points="207.5,176.9 213.7,180.5 215.4,178.3 214.3,174.2" fill="#d4d4d4"/>
<polygon points="135.2,182.6 135.8,176.6 123.3,177.9 123.2,179.3 124.0,182.6 131.9,184.2" fill="#353535"/>
<polygon points="268.7,186.9 271.2,186.9 272.3,182.9 270.4,180.6 267.5,180.0 266.8,180.1 266.9,184.2" fill="#989898"/>
<polygon points="78.2,202.8 76.7,204.0 81.4,204.0" fill="#969696"/>
<polygon points="224.2,133.5 221.9,135.9 222.7,136.8 228.1,135.8 229.1,134.7" fill="#acacac"/>
<polygon points="187.8,156.1 184.4,154.7 181.3,155.7 183.5,163.3 185.7,164.2 187.1,162.9 187.9,156.3" fill="#c5c5c5"/>
<polygon points="206.2,137.5 208.8,138.6 213.3,136.5 209.7,128.0 205.6,130.2 205.0,135.0" fill="#7e7e7e"/>
<polygon points="132.2,145.6 137.5,148.3 138.3,148.1 138.3,142.0 130.7,142.6" fill="#bebebe"/>
<polygon points="286.2,149.5 279.2,150.0 279.2,150.1 281.2,153.6 283.0,153.6" fill="#3e3e3e"/>
<polygon points="73.3,156.2 71.9,150.9 67.7,152.3 67.7,155.8 72.3,157.0" fill="#acacac"/>
<polygon points="334.9,140.9 335.5,142.1 337.2,141.0 337.2,135.0" fill="#5a5a5a"/>
<polygon points="208.8,138.6 207.9,146.5 216.5,144.6 217.9,142.8 214.3,136.6 213.3,136.5" fill="#b9b9b9"/>
<polygon points="74.2,204.0 76.7,204.0 78.2,202.8 78.3,196.1 77.0,195.9 74.0,197.5 73.7,198.3" fill="#727272"/>
<polygon points="330.4,127.8 326.1,123.4 325.3,123.4 324.9,123.6 323.2,126.1 325.0,130.0" fill="#adadad"/>
<polygon points="178.4,148.6 183.6,147.0 181.9,142.1 178.9,142.7 177.3,147.6" fill="#8d8d8d"/>
<polygon points="110.0,173.1 102.4,173.9 102.6,176.4 109.4,177.7 110.4,173.7" fill="#9d9d9d"/>
<polygon points="287.3,184.2 283.6,181.5 280.3,181.4 279.6,182.5 280.0,188.8 280.7,189.4 284.8,190.1 285.4,189.5" fill="#272727"/>
<polygon points="122.6,164.1 123.9,168.9 127.3,167.9 128.4,166.6 130.1,161.3 130.0,160.7 124.4,159.8 122.6,162.9" fill="#f4f4f4"/>
<polygon points="261.2,150.3 262.2,150.7 266.2,147.2 264.6,143.8 261.0,144.3 260.1,146.3 260.7,149.7" fill="#131313"/>
<polygon points="191.3,192.2 190.7,190.8 186.6,189.1 184.0,191.6 183.9,196.1 185.9,197.2 189.9,195.4" fill="#8c8c8c"/>
<polygon points="69.3,132.0 67.7,131.7 67.7,135.8 70.5,134.5" fill="#6f6f6f"/>
<polygon points="124.1,114.2 124.5,114.0 124.6,113.8 123.6,113.8" fill="#656565"/>
<polygon points="180.5,170.6 178.1,171.6 176.9,176.8 179.6,177.3 181.9,172.3" fill="#545454"/>
<polygon points="107.9,192.0 103.1,189.6 101.2,190.4 100.1,192.6 101.2,198.1 102.4,198.1 107.2,195.6" fill="#8a8a8a"/>
<polygon points="112.1,183.6 123.2,179.3 123.3,177.9 121.2,173.4 116.8,175.0 111.5,182.8" fill="#c9c9c9"/>
<polygon points="107.2,195.6 102.4,198.1 106.5,201.8 109.3,199.1" fill="#7c7c7c"/>
<polygon points="124.0,182.6 123.2,179.3 112.1,183.6 112.8,185.7 122.7,187.1" fill="#a5a5a5"/>
<polygon points="304.1,129.0 302.2,126.4 302.0,126.4 297.2,127.8 296.9,132.5 300.3,134.5" fill="#a8a8a8"/>
<polygon points="86.8,170.7 91.2,167.1 91.8,166.1 91.5,165.8 85.6,165.5 85.4,165.7 83.8,169.4" fill="#6f6f6f"/>
<polygon points="207.3,160.6 209.1,154.7 203.4,154.1 201.9,156.5 204.2,160.8" fill="#b0b0b0"/>
<polygon points="285.1,157.7 285.1,155.7 283.0,153.6 281.2,153.6 280.5,155.6 282.5,158.8" fill="#8e8e8e"/>
<polygon points="204.2,160.8 201.9,156.5 197.1,157.4 196.7,158.8 202.2,161.6" fill="#d4d4d4"/>
<polygon points="185.5,147.4 191.5,151.0 192.5,144.2 191.3,142.8" fill="#cecece"/>
<polygon points="102.7,136.3 102.0,138.6 104.3,142.6 108.4,139.8 108.7,138.8 105.8,133.6 105.8,133.6" fill="#858585"/>
<polygon points="135.2,135.9 139.5,133.8 141.5,130.6 137.7,127.2 133.3,130.2 134.4,135.8" fill="#868686"/>
<polygon points="284.5,121.2 286.1,121.4 287.2,119.0 286.5,113.9 282.7,114.5 282.4,114.8 281.4,117.4" fill="#dfdfdf"/>
<polygon points="117.8,162.2 115.9,164.1 118.4,169.1 121.5,171.3 123.9,168.9 122.6,164.1" fill="#676767"/>
<polygon points="152.1,131.2 148.5,126.9 145.5,127.8 143.6,130.0 147.6,133.2 149.2,133.3" fill="#e8e8e8"/>
<polygon points="168.0,157.5 166.3,155.9 162.5,156.8 162.3,157.1 163.7,160.6 167.2,161.1" fill="#cccccc"/>
<polygon points="299.2,150.1 298.9,150.4 298.8,152.7 300.9,155.6 308.6,152.9 305.3,150.0" fill="#8d8d8d"/>
<polygon points="184.4,154.7 187.8,156.1 191.1,152.6 191.6,151.3 191.5,151.0 185.5,147.4 184.6,147.7" fill="#bababa"/>
<polygon points="131.1,202.4 127.7,201.9 127.0,204.0 131.0,204.0" fill="#5e5e5e"/>
<polygon points="80.0,123.8 79.6,123.7 76.0,124.2 77.3,130.3 77.4,130.3 80.1,130.1" fill="#656565"/>
<polygon points="243.5,167.5 247.5,169.6 250.7,167.4 250.3,165.7 248.1,163.1 247.8,163.0 243.8,165.9" fill="#bababa"/>
<polygon points="137.2,202.5 135.7,203.1 135.8,204.0 139.1,204.0" fill="#a0a0a0"/>
<polygon points="178.1,171.6 180.5,170.6 180.6,170.2 178.3,166.2 173.7,166.4 172.9,169.9 175.3,171.4" fill="#a4a4a4"/>
<polygon points="87.7,196.7 83.6,200.0 84.1,203.2 90.4,201.4 90.1,197.9" fill="#ffffff"/>
<polygon points="88.8,152.7 92.7,152.4 94.6,150.0 92.1,146.0 87.7,147.6 86.9,151.0" fill="#9c9c9c"/>
<polygon points="316.6,190.2 313.7,193.3 317.2,195.8 318.7,192.1" fill="#c1c1c1"/>
<polygon points="191.8,114.8 191.7,113.8 187.3,113.8 191.5,115.1" fill="#7c7c7c"/>
<polygon points="152.1,131.2 153.8,131.5 155.3,130.7 156.2,129.7 154.1,124.3 149.9,124.7 148.5,126.9" fill="#a6a6a6"/>
<polygon points="84.1,203.2 83.6,200.0 78.3,196.1 78.3,196.1 78.2,202.8 81.4,204.0 83.7,204.0" fill="#6e6e6e"/>
<polygon points="253.8,146.1 256.9,146.7 257.9,143.2 253.4,143.0" fill="#747474"/>
<polygon points="298.4,188.6 297.0,189.6 297.5,193.2 300.9,194.1 302.5,191.3" fill="#d0d0d0"/>
<polygon points="155.8,199.2 153.9,191.1 153.2,190.9 151.6,191.2 150.2,195.0 153.1,200.1 154.4,200.4 154.8,200.4" fill="#8a8a8a"/>
<polygon points="323.2,172.6 323.7,173.8 329.4,176.2 328.4,169.6 327.6,169.0 323.6,170.8" fill="#9d9d9d"/>
<polygon points="160.4,197.1 155.8,199.2 154.8,200.4 157.3,204.0 161.3,204.0 163.6,201.6" fill="#515151"/>
<polygon points="325.4,141.3 325.0,144.1 326.3,146.0 327.7,146.1 330.4,143.5 326.9,139.9" fill="#575757"/>
<polygon points="83.6,200.0 87.7,196.7 86.2,194.2 80.1,194.1 78.3,196.1" fill="#414141"/>
<polygon points="253.0,130.7 253.0,130.6 250.0,129.2 247.3,130.3 246.0,132.5 246.4,132.9 248.1,133.7 250.4,133.7" fill="#969696"/>
<polygon points="217.6,134.1 214.3,136.6 217.9,142.8 218.4,142.9 223.2,141.4 222.7,136.8 221.9,135.9" fill="#747474"/>
<polygon points="320.3,138.6 319.4,138.9 318.6,139.4 320.5,144.7 325.0,144.1 325.4,141.3" fill="#333333"/>
<polygon points="118.8,155.5 121.1,157.1 123.3,157.2 124.6,155.7 125.0,150.7 123.4,150.6 119.0,153.9" fill="#6e6e6e"/>
<polygon points="146.0,192.7 143.9,191.4 142.3,192.8 143.8,194.6 145.7,194.4" fill="#a5a5a5"/>
<polygon points="91.3,202.6 90.4,201.4 84.1,203.2 83.7,204.0 91.5,204.0" fill="#a2a2a2"/>
<polygon points="303.2,124.2 303.5,120.6 296.7,118.7 296.2,120.6 302.0,126.4 302.2,126.4" fill="#d6d6d6"/>
<polygon points="226.9,168.7 231.3,168.9 233.2,167.8 227.3,163.0 226.1,164.5 225.9,167.7" fill="#888888"/>
<polygon points="256.7,134.6 254.5,137.2 254.7,138.7 256.9,139.7 261.3,136.4" fill="#b4b4b4"/>
<polygon points="173.3,131.1 173.5,127.2 168.8,125.9 166.3,126.9 166.2,128.9 171.0,133.9" fill="#696969"/>
<polygon points="137.7,127.2 141.5,130.6 141.8,130.6 143.6,130.0 145.5,127.8 143.3,122.0 137.9,122.0 137.9,122.0 137.0,124.1" fill="#5f5f5f"/>
<polygon points="321.2,197.5 318.1,197.1 315.1,199.6 316.6,202.8 319.2,204.0 320.3,204.0" fill="#636363"/>
<polygon points="157.8,180.2 159.0,183.5 159.5,184.0 163.5,182.7 165.3,177.3 164.2,176.3 162.0,175.5 157.8,180.0" fill="#9e9e9e"/>
<polygon points="195.3,137.7 200.1,139.9 200.3,134.0 199.0,133.5" fill="#939393"/>
<polygon points="159.2,168.0 159.9,164.3 158.1,163.1 155.7,163.8 155.1,167.5 156.4,168.7" fill="#a4a4a4"/>
<polygon points="333.1,139.3 332.6,138.1 328.8,136.0 326.8,137.1 326.9,139.9" fill="#c5c5c5"/>
<polygon points="286.5,113.9 287.2,119.0 291.2,118.6 292.2,113.8 286.6,113.8" fill="#535353"/>
<polygon points="270.1,194.0 271.5,193.6 273.5,191.5 273.7,189.7 272.8,188.2 271.2,186.9 268.7,186.9 265.7,189.8 265.9,190.4" fill="#aeaeae"/>
<polygon points="141.2,163.4 138.4,158.3 137.4,162.1 138.5,164.3 140.5,164.6" fill="#aaaaaa"/>
<polygon points="117.2,114.6 117.2,114.8 118.8,118.8 120.4,118.8 123.7,115.9 124.1,114.2 123.6,113.8 118.4,113.8" fill="#858585"/>
<polygon points="184.7,178.9 181.9,180.0 180.4,183.1 181.6,184.4 186.3,187.1 187.3,185.2" fill="#5c5c5c"/>
<polygon points="329.8,133.6 332.9,132.3 332.9,132.2 331.4,127.8 330.4,127.8 325.0,130.0 324.7,130.6 325.6,131.8" fill="#6e6e6e"/>
<polygon points="139.4,197.2 141.9,197.4 143.8,194.6 142.3,192.8 141.2,192.8 137.9,195.1" fill="#acacac"/>
<polygon points="320.4,185.4 321.9,183.9 321.8,182.5 321.7,182.4 312.5,180.5 311.4,181.4 313.9,186.6 316.8,187.7" fill="#d4d4d4"/>
<polygon points="158.6,157.6 158.6,157.5 157.2,152.5 155.7,152.3 153.2,156.1 154.3,157.8" fill="#c4c4c4"/>
<polygon points="303.5,143.2 303.1,142.4 294.7,142.5 294.8,142.8 296.3,144.4 300.5,146.2" fill="#9b9b9b"/>
<polygon points="289.3,183.8 287.3,184.2 285.4,189.5 291.3,191.2 292.9,188.6" fill="#9b9b9b"/>
<polygon points="190.6,200.8 194.7,203.0 198.2,200.2 198.3,199.8 198.0,199.4 194.0,198.9 190.8,200.5" fill="#c5c5c5"/>
<polygon points="168.7,186.8 172.5,186.9 171.9,181.8 167.9,184.7" fill="#cecece"/>
<polygon points="238.6,145.6 243.1,144.3 243.1,138.5 238.0,134.9 236.5,134.7 236.0,135.0 235.7,137.4 238.2,145.5" fill="#101010"/>
<polygon points="217.7,170.8 214.2,164.6 211.3,164.6 210.1,170.8 214.3,174.1" fill="#787878"/>
<polygon points="217.8,119.8 218.3,118.3 214.8,115.0 211.0,117.1 214.7,121.5" fill="#a1a1a1"/>
<polygon points="207.8,120.8 210.7,125.6 212.0,125.2 214.7,121.5 211.0,117.1 209.3,116.9" fill="#959595"/>
<polygon points="296.9,149.4 293.8,148.8 292.6,150.9 295.2,154.1 298.8,152.7 298.9,150.4" fill="#7f7f7f"/>
<polygon points="265.4,196.7 265.2,192.4 261.3,194.4 261.4,194.7" fill="#9c9c9c"/>
<polygon points="298.6,181.6 298.8,179.6 298.2,176.8 292.7,179.3 291.8,180.9" fill="#a9a9a9"/>
<polygon points="320.5,131.8 318.8,133.1 319.4,138.9 320.3,138.6 322.2,136.3 322.3,132.1" fill="#bdbdbd"/>
<polygon points="285.6,195.1 285.2,194.8 281.3,196.2 280.0,198.0 280.0,199.3 286.3,199.7" fill="#aaaaaa"/>
<polygon points="159.9,151.3 162.3,151.8 162.3,151.8 163.6,148.4 162.1,145.8 160.7,146.3" fill="#646464"/>
<polygon points="121.4,142.1 126.3,144.9 130.7,142.6 130.2,137.8 127.8,136.2 121.8,139.4" fill="#9e9e9e"/>
<polygon points="93.5,189.1 93.5,188.9 93.1,182.1 87.2,186.1 88.4,189.2" fill="#8c8c8c"/>
<polygon points="183.5,163.3 179.6,163.7 178.3,166.2 180.6,170.2 185.8,165.7 185.7,164.2" fill="#9d9d9d"/>
<polygon points="139.6,141.3 138.5,141.7 138.3,142.0 138.3,148.1 142.0,149.9 144.6,148.2 146.0,143.7 144.6,142.3" fill="#a2a2a2"/>
<polygon points="276.6,157.9 277.3,156.1 276.1,153.1 272.0,155.7" fill="#646464"/>
<polygon points="234.7,150.4 228.7,148.1 227.7,154.1 228.5,154.6 234.6,152.4" fill="#a7a7a7"/>
<polygon points="213.9,200.1 214.0,204.0 221.5,204.0 223.8,198.1 221.3,196.6" fill="#fdfdfd"/>
<polygon points="136.6,158.0 135.2,160.7 136.0,161.8 137.4,162.1 138.4,158.3 138.4,158.1" fill="#808080"/>
<polygon points="256.7,117.8 258.9,114.8 258.6,113.8 258.1,113.8 253.4,114.8 254.1,118.2 254.8,118.5" fill="#717171"/>
<polygon points="331.9,162.8 336.5,163.9 337.2,160.4 337.2,156.9 330.8,160.4 330.7,160.5" fill="#a0a0a0"/>
<polygon points="130.5,188.9 131.9,184.2 124.0,182.6 122.7,187.1 123.2,189.3 125.6,191.0" fill="#999999"/>
<polygon points="293.7,174.3 291.7,168.6 289.2,170.0 289.9,173.7" fill="#bebebe"/>
<polygon points="320.1,117.2 321.2,117.3 322.1,116.8 322.8,115.2 321.6,113.8 318.7,113.8" fill="#afafaf"/>
<polygon points="212.1,190.3 213.5,186.9 212.3,182.4 209.8,182.6 210.4,190.4 211.2,191.2" fill="#c0c0c0"/>
<polygon points="319.0,172.3 318.3,175.3 318.6,176.1 320.2,177.7 323.7,173.8 323.2,172.6" fill="#0e0e0e"/>
<polygon points="228.7,148.1 234.7,150.4 236.9,146.4 228.1,143.9 227.7,144.0 227.3,145.8" fill="#a3a3a3"/>
<polygon points="221.8,168.2 225.9,167.7 226.1,164.5 222.0,162.9 221.0,163.4" fill="#363636"/>
<polygon points="317.2,195.8 318.1,197.1 321.2,197.5 322.8,196.5 323.0,194.2 321.1,192.7 318.7,192.1" fill="#ffffff"/>
<polygon points="270.6,201.5 269.7,200.3 266.8,199.6 266.3,200.1 267.2,204.0 270.5,204.0" fill="#858585"/>
<polygon points="79.8,185.3 76.8,185.3 74.8,187.4 80.4,190.6 80.5,190.6" fill="#a0a0a0"/>
<polygon points="187.3,185.2 186.3,187.1 186.6,189.1 190.7,190.8 192.4,189.2 192.4,184.4 191.6,183.8 188.7,184.2" fill="#b5b5b5"/>
<polygon points="146.3,157.8 147.6,156.5 142.0,150.5 140.3,155.0" fill="#c0c0c0"/>
<polygon points="296.5,114.7 297.7,113.8 293.3,113.8" fill="#363636"/>
<polygon points="146.3,157.8 140.3,155.0 140.1,155.2 139.3,157.4 144.0,160.8 145.2,160.6" fill="#737373"/>
<polygon points="307.2,134.7 306.0,130.1 304.1,129.0 300.3,134.5 300.9,137.7 302.0,138.4 307.0,135.2" fill="#777777"/>
<polygon points="297.2,127.8 295.3,127.2 292.8,127.6 291.2,128.8 290.7,132.9 292.0,134.9 292.9,135.3 293.9,135.0 296.9,132.5" fill="#c3c3c3"/>
<polygon points="145.2,166.3 149.8,165.9 150.4,163.5 145.7,161.2" fill="#c4c4c4"/>
<polygon points="243.4,202.8 248.0,204.0 253.1,201.0 244.9,197.3 244.6,197.5" fill="#afafaf"/>
<polygon points="311.6,135.1 314.1,133.7 313.8,130.3 309.2,128.9 306.0,130.1 307.2,134.7" fill="#939393"/>
<polygon points="267.4,171.6 270.8,175.4 272.1,176.0 277.2,175.2 274.6,169.6 274.4,169.5" fill="#acacac"/>
<polygon points="167.1,188.9 168.0,191.3 169.7,191.5 172.5,186.9 172.5,186.9 168.7,186.8" fill="#b5b5b5"/>
<polygon points="315.0,161.2 316.4,163.0 316.8,163.1 322.1,157.1 322.4,155.0 320.8,154.2 314.2,155.5" fill="#b5b5b5"/>
<polygon points="321.2,117.3 320.1,117.2 317.9,119.2 317.8,120.3 319.3,121.8 321.6,121.1 322.1,120.1" fill="#dbdbdb"/>
<polygon points="111.7,190.5 112.8,185.7 112.1,183.6 111.5,182.8 110.8,182.4 103.9,183.1 103.1,189.6 107.9,192.0" fill="#5f5f5f"/>
<polygon points="150.8,169.1 149.8,165.9 145.2,166.3 143.7,167.6 149.0,169.8" fill="#757575"/>
<polygon points="200.4,119.8 200.3,124.0 200.8,124.2 202.7,124.1 204.5,120.6 203.2,119.1" fill="#858585"/>
<polygon points="271.2,186.9 272.8,188.2 279.0,182.7 273.3,182.5 272.3,182.9" fill="#d9d9d9"/>
<polygon points="99.2,133.6 102.7,136.3 105.8,133.6 102.7,130.6" fill="#828282"/>
<polygon points="285.2,204.0 291.4,204.0 292.8,199.9 286.6,200.1" fill="#b9b9b9"/>
<polygon points="303.7,162.1 306.8,163.2 310.3,159.5 308.8,154.7" fill="#a4a4a4"/>
<polygon points="162.3,151.8 162.3,151.8 162.5,156.8 166.3,155.9 167.3,152.8 166.7,152.2" fill="#9d9d9d"/>
<polygon points="107.4,159.7 107.6,160.3 112.4,162.2 113.8,158.7 111.4,156.1" fill="#cbcbcb"/>
<polygon points="124.0,127.0 127.3,123.2 126.0,120.8 123.1,121.6 122.6,125.6 123.7,127.0" fill="#999999"/>
<polygon points="168.1,117.6 169.3,117.9 170.4,117.5 172.0,113.8 165.7,113.8" fill="#aeaeae"/>
<polygon points="192.3,180.6 198.4,182.5 198.6,181.9 193.9,176.4 193.8,176.4 193.2,176.9 191.9,179.6" fill="#bebebe"/>
<polygon points="313.9,174.4 314.4,174.0 314.6,171.1 313.1,170.4 309.8,172.2" fill="#515151"/>
<polygon points="310.4,151.7 310.0,152.4 314.2,155.5 320.8,154.2 317.5,149.8" fill="#8c8c8c"/>
<polygon points="290.7,132.9 284.2,133.3 283.7,133.8 283.6,134.1 283.7,135.3 286.1,137.7 288.6,137.9 292.0,134.9" fill="#a7a7a7"/>
<polygon points="231.8,161.9 232.3,158.4 229.1,156.8 227.3,160.7 227.7,161.7" fill="#d4d4d4"/>
<polygon points="283.7,135.3 279.2,140.6 279.9,141.4 284.8,143.8 286.1,137.7" fill="#bcbcbc"/>
<polygon points="127.3,123.2 124.0,127.0 129.1,128.8 129.9,126.6 129.2,123.6" fill="#a3a3a3"/>
<polygon points="135.7,203.1 132.1,201.9 131.1,202.4 131.0,204.0 135.8,204.0" fill="#202020"/>
<polygon points="226.8,183.0 225.4,177.1 221.9,177.3 219.8,179.7 220.3,182.2 225.4,183.3" fill="#a9a9a9"/>
<polygon points="284.8,143.8 279.9,141.4 278.5,148.1 279.0,148.9 285.0,143.9" fill="#b2b2b2"/>
<polygon points="125.6,191.0 123.2,189.3 117.7,194.2 119.6,198.1 126.0,196.4 126.9,194.1" fill="#151515"/>
<polygon points="123.3,157.2 124.4,159.8 130.0,160.7 130.1,160.2 129.5,157.4 124.6,155.7" fill="#7a7a7a"/>
<polygon points="331.1,178.5 329.9,177.2 321.8,182.5 321.9,183.9 327.5,188.8 329.2,188.0 331.9,181.9" fill="#343434"/>
<polygon points="220.3,163.2 221.0,163.4 222.0,162.9 223.6,159.3 222.3,157.0 220.5,156.3 219.2,156.9" fill="#545454"/>
<polygon points="256.9,177.3 262.2,168.2 256.9,168.6 253.2,172.6 253.6,175.7" fill="#949494"/>
<polygon points="151.0,116.1 150.8,116.7 156.6,121.0 158.4,120.7 158.5,115.8 155.5,114.6" fill="#909090"/>
<polygon points="123.2,189.3 122.7,187.1 112.8,185.7 111.7,190.5 115.2,193.8 117.7,194.2" fill="#7e7e7e"/>
<polygon points="245.0,190.9 244.9,189.5 244.4,188.8 241.0,187.7 239.3,187.6 236.0,193.0 236.2,193.2 236.4,193.3 239.8,193.7" fill="#5a5a5a"/>
<polygon points="73.6,204.0 74.2,204.0 73.7,198.3 70.8,200.7" fill="#272727"/>
<polygon points="173.3,203.5 173.2,199.9 171.8,198.9 168.9,199.0 165.5,201.8 166.4,204.0 173.1,204.0" fill="#d7d7d7"/>
<polygon points="233.2,167.8 234.1,167.5 234.6,165.6 233.9,163.8 231.8,161.9 227.7,161.7 227.3,163.0" fill="#6d6d6d"/>
<polygon points="298.1,174.5 298.1,174.4 298.1,171.7 294.5,168.1 292.0,168.3 291.7,168.6 293.7,174.3 294.2,174.6" fill="#bbbbbb"/>
<polygon points="253.8,124.3 250.5,119.5 246.8,119.5 248.7,124.9 248.9,125.0 252.3,125.2" fill="#6a6a6a"/>
<polygon points="236.9,146.4 238.2,145.5 235.7,137.4 228.1,143.9" fill="#9f9f9f"/>
<polygon points="81.3,123.8 84.6,121.0 80.9,117.8 79.6,119.0 79.6,123.7 80.0,123.8" fill="#d3d3d3"/>
<polygon points="194.5,137.7 195.3,137.7 199.0,133.5 197.6,129.9 197.1,129.7 194.8,131.1 193.8,132.8" fill="#515151"/>
<polygon points="279.0,121.8 279.9,118.1 276.5,116.5 275.4,120.2 278.4,122.0" fill="#e5e5e5"/>
<polygon points="145.7,161.2 150.4,163.5 152.2,162.3 152.2,160.8 147.8,156.4 147.6,156.5 146.3,157.8 145.2,160.6" fill="#646464"/>
<polygon points="122.6,125.6 117.6,124.8 116.8,129.5 117.9,130.6 122.8,129.0 123.7,127.0" fill="#797979"/>
<polygon points="177.8,189.6 176.5,187.0 173.2,187.2 174.1,192.5 176.5,192.2" fill="#989898"/>
<polygon points="77.0,195.9 72.4,190.1 69.9,194.1 71.2,196.6 74.0,197.5" fill="#686868"/>
<polygon points="162.8,134.6 164.5,132.8 166.2,128.9 166.3,126.9 162.4,125.3 158.9,129.3" fill="#7e7e7e"/>
<polygon points="114.8,141.1 114.5,136.4 113.4,136.0 108.7,138.8 108.4,139.8 112.2,142.7" fill="#626262"/>
<polygon points="283.6,181.5 286.5,176.5 283.0,172.2 277.9,175.7 278.0,176.3 280.3,181.4" fill="#b0b0b0"/>
<polygon points="263.9,178.2 266.8,180.1 267.5,180.0 270.8,175.4 267.4,171.6 266.2,171.3" fill="#c1c1c1"/>
<polygon points="148.4,201.2 153.1,200.1 150.2,195.0 147.0,196.3 147.0,196.6" fill="#c1c1c1"/>
<polygon points="123.4,150.6 119.2,147.3 115.4,148.9 115.4,148.9 119.0,153.9" fill="#474747"/>
<polygon points="88.6,178.0 93.7,181.0 94.2,180.9 95.7,173.6 91.0,173.3 88.2,175.3" fill="#6b6b6b"/>
<polygon points="83.5,126.4 86.8,126.5 88.0,121.3 87.0,120.6 84.6,121.0 81.3,123.8" fill="#aeaeae"/>
<polygon points="276.9,158.3 280.8,165.0 281.0,165.1 281.1,165.1 282.4,159.0" fill="#9a9a9a"/>
<polygon points="250.7,181.5 250.0,180.2 247.1,180.4 246.5,183.0 247.2,184.3 249.5,185.4" fill="#868686"/>
<polygon points="236.0,135.0 236.5,134.7 237.3,131.5 235.2,127.4 230.1,125.3 229.4,125.9 234.7,134.6" fill="#9a9a9a"/>
<polygon points="256.7,117.8 259.3,119.3 262.2,117.0 258.9,114.8" fill="#828282"/>
<polygon points="142.0,150.5 142.0,149.9 138.3,148.1 137.5,148.3 135.7,150.3 135.2,153.3 140.1,155.2 140.3,155.0" fill="#818181"/>
<polygon points="90.5,121.2 90.8,121.1 94.1,119.3 95.4,117.1 93.4,113.8 91.4,113.8" fill="#787878"/>
<polygon points="247.2,184.3 246.5,183.0 244.0,184.1 244.4,188.6" fill="#c7c7c7"/>
<polygon points="164.7,143.4 163.1,143.9 162.1,145.8 163.6,148.4 166.2,148.9 168.6,146.8" fill="#646464"/>
<polygon points="120.2,160.2 118.1,160.8 117.8,162.2 122.6,164.1 122.6,162.9" fill="#797979"/>
<polygon points="229.0,200.1 227.0,197.6 223.8,198.1 221.5,204.0 230.4,204.0" fill="#404040"/>
<polygon points="70.0,204.0 73.6,204.0 70.8,200.7 68.5,201.1" fill="#b4b4b4"/>
<polygon points="266.8,198.8 270.1,194.0 265.9,190.4 265.2,192.4 265.4,196.7" fill="#6f6f6f"/>
<polygon points="245.2,138.3 246.4,132.9 246.0,132.5 245.6,132.4 238.0,134.9 243.1,138.5" fill="#494949"/>
<polygon points="236.2,193.2 235.3,198.8 236.4,200.5 239.4,199.3 239.4,198.8 236.4,193.3" fill="#515151"/>
<polygon points="90.7,161.1 94.5,157.7 92.7,152.4 88.8,152.7 87.4,155.8 87.2,157.8 88.4,159.8" fill="#bcbcbc"/>
<polygon points="282.7,114.5 286.5,113.9 286.6,113.8 282.3,113.8" fill="#9c9c9c"/>
<polygon points="277.2,175.2 272.1,176.0 271.7,178.9 274.1,179.6 278.0,176.3 277.9,175.7" fill="#bbbbbb"/>
<polygon points="97.9,160.1 97.4,158.5 94.5,157.7 90.7,161.1 91.5,165.8 91.8,166.1 94.6,166.9 95.4,166.3" fill="#585858"/>
<polygon points="256.9,139.7 254.7,138.7 252.4,141.9 253.4,143.0 257.9,143.2 258.3,143.0 258.4,141.7" fill="#959595"/>
<polygon points="245.1,158.1 242.0,154.2 241.9,154.3 239.5,158.4 241.4,160.7" fill="#050505"/>
<polygon points="74.4,118.5 79.6,119.0 80.9,117.8 81.3,113.8 76.5,113.8" fill="#757575"/>
<polygon points="298.8,182.1 298.6,183.3 299.8,186.1 300.5,186.3 305.5,184.0 304.1,182.4" fill="#616161"/>
<polygon points="296.1,165.5 294.5,168.1 298.1,171.7 301.7,168.4 301.4,164.8" fill="#ababab"/>
<polygon points="222.0,162.9 226.1,164.5 227.3,163.0 227.7,161.7 227.3,160.7 223.6,159.3" fill="#959595"/>
<polygon points="271.2,142.2 271.8,141.8 272.7,137.5 267.6,138.3 266.5,141.3" fill="#bbbbbb"/>
<polygon points="203.4,154.1 199.1,150.3 197.0,156.4 197.1,157.4 201.9,156.5" fill="#929292"/>
<polygon points="248.7,124.9 246.7,126.6 247.3,130.3 250.0,129.2 248.9,125.0" fill="#b4b4b4"/>
<polygon points="70.0,116.3 70.0,113.8 67.7,113.8 67.7,117.3" fill="#757575"/>
<polygon points="115.2,193.8 111.7,190.5 107.9,192.0 107.2,195.6 109.3,199.1 112.0,199.8" fill="#414141"/>
<polygon points="264.8,189.6 265.7,189.8 268.7,186.9 266.9,184.2 261.7,184.8" fill="#777777"/>
<polygon points="180.6,116.6 187.9,119.7 191.0,117.5 191.5,115.1 187.3,113.8 180.8,113.8" fill="#636363"/>
<polygon points="190.8,200.5 194.0,198.9 193.1,197.1 190.8,197.1" fill="#656565"/>
<polygon points="202.5,178.2 205.2,178.5 206.9,177.0 207.0,171.7 204.0,168.9 199.7,169.1 199.6,169.1 198.9,172.2" fill="#b2b2b2"/>
<polygon points="168.8,125.9 169.3,117.9 168.1,117.6 163.8,119.3 161.0,121.8 162.4,125.3 166.3,126.9" fill="#a6a6a6"/>
<polygon points="235.2,157.3 236.2,158.7 237.2,159.0 239.5,158.4 241.9,154.3 235.6,153.7" fill="#969696"/>
<polygon points="162.6,135.6 162.8,134.6 158.9,129.3 156.2,129.7 155.3,130.7 159.5,136.8 160.4,137.1" fill="#7c7c7c"/>
<polygon points="261.3,136.4 256.9,139.7 258.4,141.7 261.7,138.9 261.4,136.4" fill="#adadad"/>
<polygon points="223.3,130.5 220.3,129.9 218.5,131.5 217.6,134.1 221.9,135.9 224.2,133.5" fill="#8a8a8a"/>
<polygon points="273.6,147.7 276.5,147.2 275.5,143.4 274.4,143.5 273.0,146.1" fill="#9a9a9a"/>
<polygon points="194.5,204.0 199.2,204.0 198.2,200.2 194.7,203.0" fill="#b5b5b5"/>
<polygon points="261.7,184.8 266.9,184.2 266.8,180.1 263.9,178.2 259.5,179.9 261.7,184.8" fill="#010101"/>
<polygon points="157.6,190.3 153.9,191.1 155.8,199.2 160.4,197.1 160.6,196.5 159.1,191.7" fill="#a3a3a3"/>
<polygon points="312.9,178.7 318.6,176.1 318.3,175.3 314.4,174.0 313.9,174.4 312.6,177.1" fill="#565656"/>
<polygon points="302.9,162.1 300.5,159.1 295.5,159.9 294.6,160.9 296.1,165.5 301.4,164.8" fill="#8c8c8c"/>
<polygon points="272.6,121.1 270.9,116.2 270.7,116.2 268.0,119.1 270.3,123.5 271.6,122.9" fill="#808080"/>
<polygon points="336.4,189.8 336.8,194.9 337.2,195.0 337.2,188.8" fill="#696969"/>
<polygon points="102.0,128.1 97.0,129.4 94.8,131.7 98.1,133.6 99.2,133.6 102.7,130.6" fill="#808080"/>
<polygon points="223.0,189.1 225.8,189.6 230.6,185.9 230.7,185.0 226.8,183.0 225.4,183.3 222.7,187.3" fill="#b3b3b3"/>
<polygon points="272.9,162.0 276.6,158.1 276.6,157.9 272.0,155.7 271.0,155.8 269.4,159.7 270.8,162.3 271.1,162.4" fill="#9e9e9e"/>
<polygon points="163.8,119.3 168.1,117.6 165.7,113.8 161.6,113.8" fill="#ababab"/>
<polygon points="81.4,172.0 82.8,174.3 87.8,174.9 86.8,170.7 83.8,169.4 82.6,169.7" fill="#9b9b9b"/>
<polygon points="279.3,204.0 283.8,204.0 280.0,199.4 279.5,199.8" fill="#919191"/>
<polygon points="165.5,201.8 163.6,201.6 161.3,204.0 166.4,204.0" fill="#a0a0a0"/>
<polygon points="147.2,203.2 143.0,203.8 142.9,204.0 147.4,204.0" fill="#a2a2a2"/>
<polygon points="319.3,121.8 319.5,125.5 323.2,126.1 324.9,123.6 321.6,121.1" fill="#656565"/>
<polygon points="305.5,184.0 307.0,184.8 310.8,181.5 306.5,177.6 305.6,177.4 304.6,178.9 304.1,182.4" fill="#6d6d6d"/>
<polygon points="253.8,196.6 254.1,199.5 259.5,199.3 261.4,194.7 261.3,194.4 260.0,192.9 253.8,196.6" fill="#a4a4a4"/>
<polygon points="216.2,157.4 211.4,153.4 210.4,153.3 209.1,154.7 207.3,160.6 209.2,163.7 211.3,164.6 214.2,164.6 214.7,164.0" fill="#9e9e9e"/>
<polygon points="160.6,196.5 160.4,197.1 163.6,201.6 165.5,201.8 168.9,199.0 165.6,194.7" fill="#505050"/>
<polygon points="317.0,127.4 319.5,125.5 319.3,121.8 317.8,120.3 312.4,122.4 312.4,122.4 316.3,127.4" fill="#6a6a6a"/>
<polygon points="274.2,136.0 279.1,140.6 279.2,140.6 283.7,135.3 283.6,134.1 274.3,135.0" fill="#545454"/>
<polygon points="110.9,131.4 113.3,129.8 112.9,125.0 108.6,125.0 108.8,128.9 109.6,131.1" fill="#cecece"/>
</g></g>
<rect x="67.65" y="4.5" width="269.55" height="90.20" fill="none" stroke="#000" stroke-width="1.6"/>
<line x1="60.650000000000006" y1="94.70" x2="67.65" y2="94.70" stroke="#000" stroke-width="1.6"/>
<text x="55.20" y="100.00" font-size="14" text-anchor="end" letter-spacing="1.2">0</text>
<line x1="60.650000000000006" y1="49.60" x2="67.65" y2="49.60" stroke="#000" stroke-width="1.6"/>
<text x="55.20" y="54.90" font-size="14" text-anchor="end" letter-spacing="1.2">100</text>
<line x1="60.650000000000006" y1="4.50" x2="67.65" y2="4.50" stroke="#000" stroke-width="1.6"/>
<text x="55.20" y="9.80" font-size="14" text-anchor="end" letter-spacing="1.2">200</text>
<line x1="67.65" y1="94.7" x2="67.65" y2="101.7" stroke="#000" stroke-width="1.6"/>
<line x1="112.70" y1="94.7" x2="112.70" y2="101.7" stroke="#000" stroke-width="1.6"/>
<line x1="157.75" y1="94.7" x2="157.75" y2="101.7" stroke="#000" stroke-width="1.6"/>
<line x1="202.80" y1="94.7" x2="202.80" y2="101.7" stroke="#000" stroke-width="1.6"/>
<line x1="247.85" y1="94.7" x2="247.85" y2="101.7" stroke="#000" stroke-width="1.6"/>
<line x1="292.90" y1="94.7" x2="292.90" y2="101.7" stroke="#000" stroke-width="1.6"/>
<rect x="67.65" y="113.8" width="269.55" height="90.20" fill="none" stroke="#000" stroke-width="1.6"/>
<line x1="60.650000000000006" y1="204.00" x2="67.65" y2="204.00" stroke="#000" stroke-width="1.6"/>
<text x="55.20" y="209.30" font-size="14" text-anchor="end" letter-spacing="1.2">0</text>
<line x1="60.650000000000006" y1="158.90" x2="67.65" y2="158.90" stroke="#000" stroke-width="1.6"/>
<text x="55.20" y="164.20" font-size="14" text-anchor="end" letter-spacing="1.2">100</text>
<line x1="60.650000000000006" y1="113.80" x2="67.65" y2="113.80" stroke="#000" stroke-width="1.6"/>
<text x="55.20" y="119.10" font-size="14" text-anchor="end" letter-spacing="1.2">200</text>
<line x1="67.65" y1="204.0" x2="67.65" y2="211.0" stroke="#000" stroke-width="1.6"/>
<line x1="112.70" y1="204.0" x2="112.70" y2="211.0" stroke="#000" stroke-width="1.6"/>
<line x1="157.75" y1="204.0" x2="157.75" y2="211.0" stroke="#000" stroke-width="1.6"/>
<line x1="202.80" y1="204.0" x2="202.80" y2="211.0" stroke="#000" stroke-width="1.6"/>
<line x1="247.85" y1="204.0" x2="247.85" y2="211.0" stroke="#000" stroke-width="1.6"/>
<line x1="292.90" y1="204.0" x2="292.90" y2="211.0" stroke="#000" stroke-width="1.6"/>
<text x="67.95" y="227.80" font-size="14" text-anchor="middle" letter-spacing="0.6">0</text>
<text x="113.00" y="227.80" font-size="14" text-anchor="middle" letter-spacing="0.6">100</text>
<text x="158.05" y="227.80" font-size="14" text-anchor="middle" letter-spacing="0.6">200</text>
<text x="203.10" y="227.80" font-size="14" text-anchor="middle" letter-spacing="0.6">300</text>
<text x="248.15" y="227.80" font-size="14" text-anchor="middle" letter-spacing="0.6">400</text>
<text x="293.20" y="227.80" font-size="14" text-anchor="middle" letter-spacing="0.6">500</text>
<text x="203.10" y="247.30" font-size="15" text-anchor="middle" letter-spacing="1.14"><tspan font-style="italic">x</tspan> (nm)</text>
<text transform="translate(17.30,102.00) rotate(-90)" font-size="15" text-anchor="middle" letter-spacing="0.82"><tspan font-style="italic">y</tspan> (nm)</text>
<text x="361.50" y="14.60" font-size="21" font-weight="bold">(b)</text>
<defs><clipPath id="cb"><rect x="427.95" y="10.0" width="256.05" height="182.60"/></clipPath></defs>
<g clip-path="url(#cb)">
<line x1="434.35" y1="189.90" x2="688.46" y2="36.05" stroke="#000" stroke-width="1.6" stroke-dasharray="5.6,2.4"/>
<circle cx="434.35" cy="189.35" r="3.9" fill="#1f77b4"/><circle cx="465.69" cy="169.99" r="3.9" fill="#1f77b4"/><circle cx="497.03" cy="151.62" r="3.9" fill="#1f77b4"/><circle cx="528.37" cy="133.47" r="3.9" fill="#1f77b4"/><circle cx="559.71" cy="114.88" r="3.9" fill="#1f77b4"/><circle cx="591.05" cy="95.63" r="3.9" fill="#1f77b4"/><circle cx="622.39" cy="76.82" r="3.9" fill="#1f77b4"/><circle cx="653.73" cy="58.34" r="3.9" fill="#1f77b4"/><circle cx="685.07" cy="38.87" r="3.9" fill="#1f77b4"/>
<polyline points="434.35,189.90 448.82,182.64 463.29,173.73 477.76,167.57 492.23,158.00 506.70,150.85 521.17,143.26 535.64,136.00 550.11,127.64 564.58,120.49 579.05,112.90 593.52,104.98 607.99,97.06 622.46,89.25 636.93,80.78 651.40,72.86 665.87,65.49 680.34,57.57" fill="none" stroke="#ff7f0e" stroke-width="1.6" stroke-linejoin="round"/>
<circle cx="434.35" cy="189.90" r="3.9" fill="#ff7f0e"/><circle cx="448.82" cy="182.64" r="3.9" fill="#ff7f0e"/><circle cx="463.29" cy="173.73" r="3.9" fill="#ff7f0e"/><circle cx="477.76" cy="167.57" r="3.9" fill="#ff7f0e"/><circle cx="492.23" cy="158.00" r="3.9" fill="#ff7f0e"/><circle cx="506.70" cy="150.85" r="3.9" fill="#ff7f0e"/><circle cx="521.17" cy="143.26" r="3.9" fill="#ff7f0e"/><circle cx="535.64" cy="136.00" r="3.9" fill="#ff7f0e"/><circle cx="550.11" cy="127.64" r="3.9" fill="#ff7f0e"/><circle cx="564.58" cy="120.49" r="3.9" fill="#ff7f0e"/><circle cx="579.05" cy="112.90" r="3.9" fill="#ff7f0e"/><circle cx="593.52" cy="104.98" r="3.9" fill="#ff7f0e"/><circle cx="607.99" cy="97.06" r="3.9" fill="#ff7f0e"/><circle cx="622.46" cy="89.25" r="3.9" fill="#ff7f0e"/><circle cx="636.93" cy="80.78" r="3.9" fill="#ff7f0e"/><circle cx="651.40" cy="72.86" r="3.9" fill="#ff7f0e"/><circle cx="665.87" cy="65.49" r="3.9" fill="#ff7f0e"/><circle cx="680.34" cy="57.57" r="3.9" fill="#ff7f0e"/>
<polyline points="434.35,189.90 448.82,187.70 463.29,183.85 477.76,169.00 492.23,164.05 506.70,154.37 521.17,149.75 535.64,143.04 550.11,134.90 564.58,128.52 579.05,121.70 593.52,114.88 607.99,107.73 622.46,100.58 636.93,93.21 651.40,86.83 665.87,79.24 680.34,72.53" fill="none" stroke="#2ca02c" stroke-width="1.6" stroke-linejoin="round"/>
<circle cx="434.35" cy="189.90" r="3.9" fill="#2ca02c"/><circle cx="448.82" cy="187.70" r="3.9" fill="#2ca02c"/><circle cx="463.29" cy="183.85" r="3.9" fill="#2ca02c"/><circle cx="477.76" cy="169.00" r="3.9" fill="#2ca02c"/><circle cx="492.23" cy="164.05" r="3.9" fill="#2ca02c"/><circle cx="506.70" cy="154.37" r="3.9" fill="#2ca02c"/><circle cx="521.17" cy="149.75" r="3.9" fill="#2ca02c"/><circle cx="535.64" cy="143.04" r="3.9" fill="#2ca02c"/><circle cx="550.11" cy="134.90" r="3.9" fill="#2ca02c"/><circle cx="564.58" cy="128.52" r="3.9" fill="#2ca02c"/><circle cx="579.05" cy="121.70" r="3.9" fill="#2ca02c"/><circle cx="593.52" cy="114.88" r="3.9" fill="#2ca02c"/><circle cx="607.99" cy="107.73" r="3.9" fill="#2ca02c"/><circle cx="622.46" cy="100.58" r="3.9" fill="#2ca02c"/><circle cx="636.93" cy="93.21" r="3.9" fill="#2ca02c"/><circle cx="651.40" cy="86.83" r="3.9" fill="#2ca02c"/><circle cx="665.87" cy="79.24" r="3.9" fill="#2ca02c"/><circle cx="680.34" cy="72.53" r="3.9" fill="#2ca02c"/>
<polyline points="434.35,191.00 448.82,189.57 463.29,188.91 477.76,188.47 492.23,188.25 506.70,187.37 521.17,168.78 535.64,160.86 550.11,154.26 564.58,152.28 579.05,148.32 593.52,142.71 607.99,135.45 622.46,129.62 636.93,122.80 651.40,116.31 665.87,113.12 680.34,107.40" fill="none" stroke="#d62728" stroke-width="1.6" stroke-linejoin="round"/>
<circle cx="434.35" cy="191.00" r="3.9" fill="#d62728"/><circle cx="448.82" cy="189.57" r="3.9" fill="#d62728"/><circle cx="463.29" cy="188.91" r="3.9" fill="#d62728"/><circle cx="477.76" cy="188.47" r="3.9" fill="#d62728"/><circle cx="492.23" cy="188.25" r="3.9" fill="#d62728"/><circle cx="506.70" cy="187.37" r="3.9" fill="#d62728"/><circle cx="521.17" cy="168.78" r="3.9" fill="#d62728"/><circle cx="535.64" cy="160.86" r="3.9" fill="#d62728"/><circle cx="550.11" cy="154.26" r="3.9" fill="#d62728"/><circle cx="564.58" cy="152.28" r="3.9" fill="#d62728"/><circle cx="579.05" cy="148.32" r="3.9" fill="#d62728"/><circle cx="593.52" cy="142.71" r="3.9" fill="#d62728"/><circle cx="607.99" cy="135.45" r="3.9" fill="#d62728"/><circle cx="622.46" cy="129.62" r="3.9" fill="#d62728"/><circle cx="636.93" cy="122.80" r="3.9" fill="#d62728"/><circle cx="651.40" cy="116.31" r="3.9" fill="#d62728"/><circle cx="665.87" cy="113.12" r="3.9" fill="#d62728"/><circle cx="680.34" cy="107.40" r="3.9" fill="#d62728"/>
</g>
<rect x="427.95" y="10.0" width="256.05" height="182.60" fill="none" stroke="#000" stroke-width="1.6"/>
<line x1="420.95" y1="189.90" x2="427.95" y2="189.90" stroke="#000" stroke-width="1.6"/>
<text x="414.80" y="195.20" font-size="14" text-anchor="end" letter-spacing="1.3">0.0</text>
<line x1="420.95" y1="134.90" x2="427.95" y2="134.90" stroke="#000" stroke-width="1.6"/>
<text x="414.80" y="140.20" font-size="14" text-anchor="end" letter-spacing="1.3">0.5</text>
<line x1="420.95" y1="79.90" x2="427.95" y2="79.90" stroke="#000" stroke-width="1.6"/>
<text x="414.80" y="85.20" font-size="14" text-anchor="end" letter-spacing="1.3">1.0</text>
<line x1="420.95" y1="24.90" x2="427.95" y2="24.90" stroke="#000" stroke-width="1.6"/>
<text x="414.80" y="30.20" font-size="14" text-anchor="end" letter-spacing="1.3">1.5</text>
<line x1="434.35" y1="192.6" x2="434.35" y2="199.6" stroke="#000" stroke-width="1.6"/>
<text x="435.00" y="215.80" font-size="14" text-anchor="middle" letter-spacing="1.3">0.0</text>
<line x1="504.94" y1="192.6" x2="504.94" y2="199.6" stroke="#000" stroke-width="1.6"/>
<text x="505.58" y="215.80" font-size="14" text-anchor="middle" letter-spacing="1.3">0.5</text>
<line x1="575.52" y1="192.6" x2="575.52" y2="199.6" stroke="#000" stroke-width="1.6"/>
<text x="576.17" y="215.80" font-size="14" text-anchor="middle" letter-spacing="1.3">1.0</text>
<line x1="646.11" y1="192.6" x2="646.11" y2="199.6" stroke="#000" stroke-width="1.6"/>
<text x="646.75" y="215.80" font-size="14" text-anchor="middle" letter-spacing="1.3">1.5</text>
<text x="449.5" y="238.3" font-size="15" letter-spacing="0.9">Current density</text>
<text x="562.3" y="238.3" font-size="15" font-style="italic">J</text>
<text x="575.9" y="238.3" font-size="15" letter-spacing="0.8">(10</text>
<text x="598" y="232.4" font-size="10">8</text>
<text x="609.5" y="238.3" font-size="15" letter-spacing="1.9">A/cm</text>
<text x="648.8" y="232.1" font-size="10">2</text>
<text x="656.7" y="238.3" font-size="15">)</text>
<text transform="translate(383.00,101.00) rotate(-90)" font-size="15" text-anchor="middle" letter-spacing="0.937">Velocity <tspan font-style="italic">v</tspan> (km/s)</text>
<rect x="432" y="14.4" width="70" height="69.6" rx="2.5" fill="#fff" fill-opacity="0.8" stroke="#ccc" stroke-width="1.2"/>
<line x1="436" y1="22.0" x2="456" y2="22.0" stroke="#000" stroke-width="1.6" stroke-dasharray="5.6,2.4"/>
<circle cx="446" cy="35.4" r="3.9" fill="#1f77b4"/>
<line x1="436" y1="48.8" x2="456" y2="48.8" stroke="#ff7f0e" stroke-width="1.6"/><circle cx="446" cy="48.8" r="3.9" fill="#ff7f0e"/>
<line x1="436" y1="62.2" x2="456" y2="62.2" stroke="#2ca02c" stroke-width="1.6"/><circle cx="446" cy="62.2" r="3.9" fill="#2ca02c"/>
<line x1="436" y1="75.4" x2="456" y2="75.4" stroke="#d62728" stroke-width="1.6"/><circle cx="446" cy="75.4" r="3.9" fill="#d62728"/>
<text stroke="#000" stroke-width="0.15" x="463.80" y="25.70" font-size="10.9" letter-spacing="1.35">Model</text>
<text stroke="#000" stroke-width="0.15" x="463.80" y="39.10" font-size="10.9" letter-spacing="1.35">0 %</text>
<text stroke="#000" stroke-width="0.15" x="463.80" y="52.50" font-size="10.9" letter-spacing="1.35">50 %</text>
<text stroke="#000" stroke-width="0.15" x="463.80" y="65.90" font-size="10.9" letter-spacing="1.35">75 %</text>
<text stroke="#000" stroke-width="0.15" x="463.80" y="79.10" font-size="10.9" letter-spacing="1.35">90 %</text>
</svg>
</body></html>
